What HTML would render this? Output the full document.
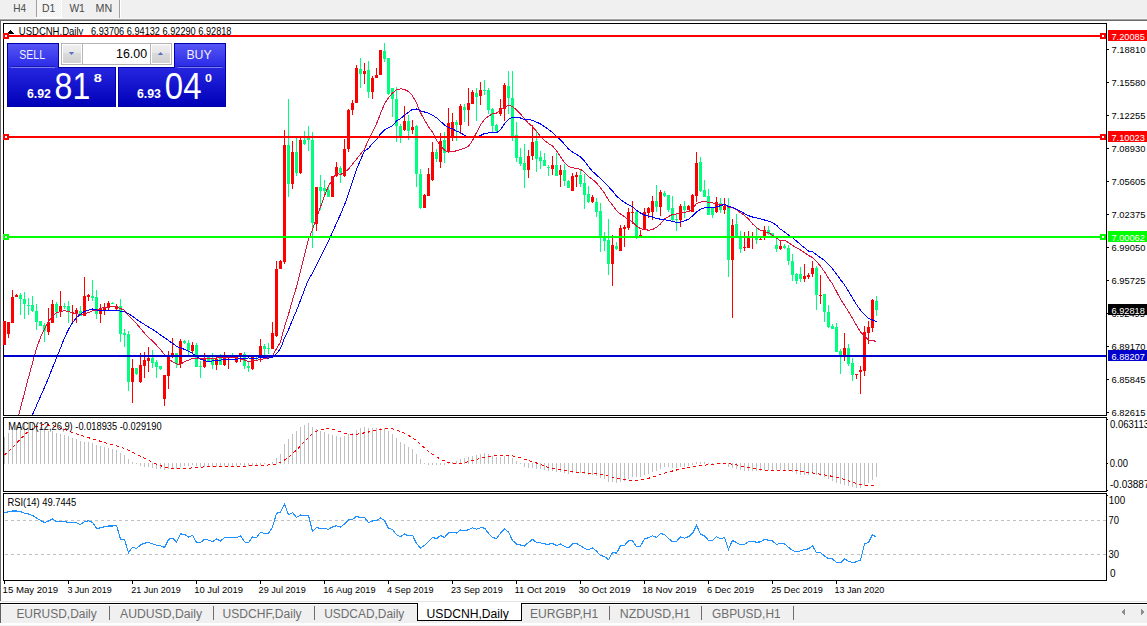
<!DOCTYPE html>
<html><head><meta charset="utf-8"><style>
html,body{margin:0;padding:0;width:1147px;height:626px;overflow:hidden;background:#fff}
svg{display:block}
</style></head><body>
<svg width="1147" height="626" viewBox="0 0 1147 626" shape-rendering="crispEdges">
<defs>
<pattern id="checker" x="0" y="0" width="2" height="2" patternUnits="userSpaceOnUse"><rect width="2" height="2" fill="#f0f0f0"/><rect width="1" height="1" fill="#fbfbfb"/><rect x="1" y="1" width="1" height="1" fill="#fbfbfb"/></pattern>
<clipPath id="mainclip"><rect x="4" y="24" width="1102" height="391"/></clipPath>
<clipPath id="macdclip"><rect x="4" y="418" width="1102" height="73"/></clipPath>
<clipPath id="rsiclip"><rect x="4" y="494" width="1102" height="86"/></clipPath>
<linearGradient id="gsell" x1="0" y1="0" x2="0" y2="1"><stop offset="0" stop-color="#5555f5"/><stop offset="1" stop-color="#2a2ae6"/></linearGradient>
<linearGradient id="gprice" x1="0" y1="0" x2="0" y2="1"><stop offset="0" stop-color="#2626e0"/><stop offset="1" stop-color="#0000b8"/></linearGradient>
<linearGradient id="gbtn" x1="0" y1="0" x2="0" y2="1"><stop offset="0" stop-color="#efefef"/><stop offset="0.45" stop-color="#e6e6e6"/><stop offset="0.45" stop-color="#dadada"/><stop offset="1" stop-color="#d2d2d2"/></linearGradient>
</defs>
<rect x="0" y="0" width="1147" height="626" fill="#ffffff"/>
<rect x="0" y="0" width="1147" height="19" fill="#f0f0f0"/>
<rect x="37" y="0" width="24" height="17" fill="url(#checker)"/>
<rect x="36" y="17" width="26" height="1" fill="#ffffff"/>
<rect x="61" y="0" width="1" height="18" fill="#ffffff"/>
<rect x="36" y="0" width="1" height="17" fill="#a0a0a0"/>
<rect x="119" y="0" width="1" height="19" fill="#a0a0a0"/>
<rect x="120" y="0" width="1" height="19" fill="#ffffff"/>
<rect x="0" y="18" width="1147" height="1" fill="#f6f6f6"/>
<rect x="0" y="19" width="1147" height="1" fill="#a4a4a4"/>
<rect x="0" y="20" width="1147" height="1" fill="#6c6c6c"/>
<text x="13.199999999999996" y="11.5" font-family="Liberation Sans" font-size="10.5" fill="#4a4a4a" font-weight="normal" textLength="12.84" lengthAdjust="spacingAndGlyphs">H4</text>
<text x="42.0" y="11.5" font-family="Liberation Sans" font-size="10.5" fill="#4a4a4a" font-weight="normal" textLength="13.34" lengthAdjust="spacingAndGlyphs">D1</text>
<text x="69.40000000000003" y="11.5" font-family="Liberation Sans" font-size="10.5" fill="#4a4a4a" font-weight="normal" textLength="15.45" lengthAdjust="spacingAndGlyphs">W1</text>
<text x="95.59999999999997" y="11.5" font-family="Liberation Sans" font-size="10.5" fill="#4a4a4a" font-weight="normal" textLength="16.64" lengthAdjust="spacingAndGlyphs">MN</text>
<rect x="0" y="20" width="1" height="581" fill="#6c6c6c"/>
<rect x="3" y="23" width="1104" height="1" fill="#000000"/>
<rect x="3" y="415" width="1104" height="1" fill="#000000"/>
<rect x="3" y="23" width="1" height="393" fill="#000000"/>
<rect x="1106" y="23" width="1" height="393" fill="#000000"/>
<rect x="3" y="417" width="1104" height="1" fill="#000000"/>
<rect x="3" y="491" width="1104" height="1" fill="#000000"/>
<rect x="3" y="417" width="1" height="75" fill="#000000"/>
<rect x="1106" y="417" width="1" height="75" fill="#000000"/>
<rect x="3" y="493" width="1104" height="1" fill="#000000"/>
<rect x="3" y="580" width="1104" height="1" fill="#000000"/>
<rect x="3" y="493" width="1" height="88" fill="#000000"/>
<rect x="1106" y="493" width="1" height="88" fill="#000000"/>
<rect x="1107" y="49" width="2" height="1" fill="#000000"/>
<text x="1111.5" y="53" font-family="Liberation Sans" font-size="9.6" fill="#000" font-weight="normal" textLength="33.86" lengthAdjust="spacingAndGlyphs">7.18810</text>
<rect x="1107" y="82" width="2" height="1" fill="#000000"/>
<text x="1111.5" y="86" font-family="Liberation Sans" font-size="9.6" fill="#000" font-weight="normal" textLength="33.86" lengthAdjust="spacingAndGlyphs">7.15580</text>
<rect x="1107" y="115" width="2" height="1" fill="#000000"/>
<text x="1111.5" y="119" font-family="Liberation Sans" font-size="9.6" fill="#000" font-weight="normal" textLength="33.86" lengthAdjust="spacingAndGlyphs">7.12255</text>
<rect x="1107" y="148" width="2" height="1" fill="#000000"/>
<text x="1111.5" y="152" font-family="Liberation Sans" font-size="9.6" fill="#000" font-weight="normal" textLength="33.86" lengthAdjust="spacingAndGlyphs">7.08930</text>
<rect x="1107" y="181" width="2" height="1" fill="#000000"/>
<text x="1111.5" y="185" font-family="Liberation Sans" font-size="9.6" fill="#000" font-weight="normal" textLength="33.86" lengthAdjust="spacingAndGlyphs">7.05605</text>
<rect x="1107" y="214" width="2" height="1" fill="#000000"/>
<text x="1111.5" y="218" font-family="Liberation Sans" font-size="9.6" fill="#000" font-weight="normal" textLength="33.86" lengthAdjust="spacingAndGlyphs">7.02375</text>
<rect x="1107" y="247" width="2" height="1" fill="#000000"/>
<text x="1111.5" y="251" font-family="Liberation Sans" font-size="9.6" fill="#000" font-weight="normal" textLength="33.86" lengthAdjust="spacingAndGlyphs">6.99050</text>
<rect x="1107" y="280" width="2" height="1" fill="#000000"/>
<text x="1111.5" y="284" font-family="Liberation Sans" font-size="9.6" fill="#000" font-weight="normal" textLength="33.86" lengthAdjust="spacingAndGlyphs">6.95725</text>
<rect x="1107" y="313" width="2" height="1" fill="#000000"/>
<text x="1111.5" y="317" font-family="Liberation Sans" font-size="9.6" fill="#000" font-weight="normal" textLength="33.30" lengthAdjust="spacingAndGlyphs">6.92495</text>
<rect x="1107" y="346" width="2" height="1" fill="#000000"/>
<text x="1111.5" y="350" font-family="Liberation Sans" font-size="9.6" fill="#000" font-weight="normal" textLength="33.86" lengthAdjust="spacingAndGlyphs">6.89170</text>
<rect x="1107" y="379" width="2" height="1" fill="#000000"/>
<text x="1111.5" y="383" font-family="Liberation Sans" font-size="9.6" fill="#000" font-weight="normal" textLength="33.86" lengthAdjust="spacingAndGlyphs">6.85845</text>
<rect x="1107" y="412" width="2" height="1" fill="#000000"/>
<text x="1111.5" y="416" font-family="Liberation Sans" font-size="9.6" fill="#000" font-weight="normal" textLength="33.86" lengthAdjust="spacingAndGlyphs">6.82615</text>
<rect x="4" y="321" width="1" height="24" fill="#ff0000"/>
<rect x="3" y="321" width="3" height="24" fill="#ff0000"/>
<rect x="8" y="322" width="1" height="16" fill="#ff0000"/>
<rect x="7" y="322" width="3" height="12" fill="#ff0000"/>
<rect x="12" y="290" width="1" height="33" fill="#ff0000"/>
<rect x="11" y="297" width="3" height="26" fill="#ff0000"/>
<rect x="16" y="294" width="1" height="3" fill="#ff0000"/>
<rect x="15" y="295" width="3" height="2" fill="#ff0000"/>
<rect x="20" y="293" width="1" height="22" fill="#00ff7f"/>
<rect x="19" y="295" width="3" height="4" fill="#00ff7f"/>
<rect x="24" y="292" width="1" height="27" fill="#00ff7f"/>
<rect x="23" y="299" width="3" height="5" fill="#00ff7f"/>
<rect x="28" y="298" width="1" height="17" fill="#00ff7f"/>
<rect x="27" y="305" width="3" height="1" fill="#00ff7f"/>
<rect x="32" y="296" width="1" height="16" fill="#00ff7f"/>
<rect x="31" y="305" width="3" height="6" fill="#00ff7f"/>
<rect x="36" y="304" width="1" height="26" fill="#00ff7f"/>
<rect x="35" y="311" width="3" height="11" fill="#00ff7f"/>
<rect x="40" y="321" width="1" height="5" fill="#00ff7f"/>
<rect x="39" y="321" width="3" height="5" fill="#00ff7f"/>
<rect x="44" y="323" width="1" height="19" fill="#00ff7f"/>
<rect x="43" y="325" width="3" height="6" fill="#00ff7f"/>
<rect x="48" y="308" width="1" height="27" fill="#ff0000"/>
<rect x="47" y="322" width="3" height="10" fill="#ff0000"/>
<rect x="52" y="300" width="1" height="23" fill="#ff0000"/>
<rect x="51" y="304" width="3" height="19" fill="#ff0000"/>
<rect x="56" y="302" width="1" height="16" fill="#00ff7f"/>
<rect x="55" y="304" width="3" height="8" fill="#00ff7f"/>
<rect x="60" y="291" width="1" height="26" fill="#ff0000"/>
<rect x="59" y="306" width="3" height="6" fill="#ff0000"/>
<rect x="64" y="303" width="1" height="6" fill="#00ff7f"/>
<rect x="63" y="306" width="3" height="1" fill="#00ff7f"/>
<rect x="68" y="301" width="1" height="22" fill="#00ff7f"/>
<rect x="67" y="306" width="3" height="5" fill="#00ff7f"/>
<rect x="72" y="305" width="1" height="18" fill="#ff0000"/>
<rect x="71" y="312" width="3" height="1" fill="#ff0000"/>
<rect x="76" y="308" width="1" height="15" fill="#ff0000"/>
<rect x="75" y="310" width="3" height="4" fill="#ff0000"/>
<rect x="80" y="306" width="1" height="10" fill="#00ff7f"/>
<rect x="79" y="311" width="3" height="5" fill="#00ff7f"/>
<rect x="84" y="277" width="1" height="39" fill="#ff0000"/>
<rect x="83" y="296" width="3" height="20" fill="#ff0000"/>
<rect x="88" y="294" width="1" height="7" fill="#ff0000"/>
<rect x="87" y="295" width="3" height="2" fill="#ff0000"/>
<rect x="92" y="280" width="1" height="21" fill="#00ff7f"/>
<rect x="91" y="296" width="3" height="2" fill="#00ff7f"/>
<rect x="96" y="290" width="1" height="29" fill="#00ff7f"/>
<rect x="95" y="297" width="3" height="17" fill="#00ff7f"/>
<rect x="100" y="304" width="1" height="19" fill="#ff0000"/>
<rect x="99" y="308" width="3" height="6" fill="#ff0000"/>
<rect x="104" y="303" width="1" height="12" fill="#ff0000"/>
<rect x="103" y="307" width="3" height="3" fill="#ff0000"/>
<rect x="108" y="301" width="1" height="9" fill="#ff0000"/>
<rect x="107" y="303" width="3" height="5" fill="#ff0000"/>
<rect x="112" y="302" width="1" height="2" fill="#00ff7f"/>
<rect x="111" y="303" width="3" height="1" fill="#00ff7f"/>
<rect x="116" y="304" width="1" height="6" fill="#ff0000"/>
<rect x="115" y="306" width="3" height="3" fill="#ff0000"/>
<rect x="120" y="299" width="1" height="43" fill="#00ff7f"/>
<rect x="119" y="306" width="3" height="28" fill="#00ff7f"/>
<rect x="124" y="329" width="1" height="18" fill="#00ff7f"/>
<rect x="123" y="333" width="3" height="2" fill="#00ff7f"/>
<rect x="128" y="331" width="1" height="60" fill="#00ff7f"/>
<rect x="127" y="334" width="3" height="48" fill="#00ff7f"/>
<rect x="132" y="359" width="1" height="44" fill="#ff0000"/>
<rect x="131" y="368" width="3" height="14" fill="#ff0000"/>
<rect x="136" y="368" width="1" height="7" fill="#00ff7f"/>
<rect x="135" y="368" width="3" height="6" fill="#00ff7f"/>
<rect x="140" y="353" width="1" height="30" fill="#ff0000"/>
<rect x="139" y="365" width="3" height="17" fill="#ff0000"/>
<rect x="144" y="352" width="1" height="26" fill="#ff0000"/>
<rect x="143" y="360" width="3" height="6" fill="#ff0000"/>
<rect x="148" y="347" width="1" height="25" fill="#ff0000"/>
<rect x="147" y="358" width="3" height="3" fill="#ff0000"/>
<rect x="152" y="350" width="1" height="18" fill="#00ff7f"/>
<rect x="151" y="358" width="3" height="5" fill="#00ff7f"/>
<rect x="156" y="360" width="1" height="18" fill="#00ff7f"/>
<rect x="155" y="362" width="3" height="5" fill="#00ff7f"/>
<rect x="160" y="366" width="1" height="4" fill="#00ff7f"/>
<rect x="159" y="366" width="3" height="3" fill="#00ff7f"/>
<rect x="164" y="375" width="1" height="31" fill="#ff0000"/>
<rect x="163" y="375" width="3" height="24" fill="#ff0000"/>
<rect x="168" y="351" width="1" height="38" fill="#ff0000"/>
<rect x="167" y="356" width="3" height="20" fill="#ff0000"/>
<rect x="172" y="338" width="1" height="20" fill="#ff0000"/>
<rect x="171" y="353" width="3" height="3" fill="#ff0000"/>
<rect x="176" y="353" width="1" height="15" fill="#00ff7f"/>
<rect x="175" y="353" width="3" height="11" fill="#00ff7f"/>
<rect x="180" y="339" width="1" height="29" fill="#ff0000"/>
<rect x="179" y="341" width="3" height="23" fill="#ff0000"/>
<rect x="184" y="340" width="1" height="4" fill="#00ff7f"/>
<rect x="183" y="341" width="3" height="2" fill="#00ff7f"/>
<rect x="188" y="340" width="1" height="16" fill="#00ff7f"/>
<rect x="187" y="343" width="3" height="7" fill="#00ff7f"/>
<rect x="192" y="342" width="1" height="11" fill="#ff0000"/>
<rect x="191" y="345" width="3" height="6" fill="#ff0000"/>
<rect x="196" y="343" width="1" height="24" fill="#00ff7f"/>
<rect x="195" y="345" width="3" height="22" fill="#00ff7f"/>
<rect x="200" y="361" width="1" height="17" fill="#00ff7f"/>
<rect x="199" y="366" width="3" height="1" fill="#00ff7f"/>
<rect x="204" y="353" width="1" height="15" fill="#ff0000"/>
<rect x="203" y="358" width="3" height="9" fill="#ff0000"/>
<rect x="208" y="356" width="1" height="5" fill="#00ff7f"/>
<rect x="207" y="357" width="3" height="4" fill="#00ff7f"/>
<rect x="212" y="353" width="1" height="16" fill="#00ff7f"/>
<rect x="211" y="359" width="3" height="6" fill="#00ff7f"/>
<rect x="216" y="357" width="1" height="13" fill="#ff0000"/>
<rect x="215" y="359" width="3" height="6" fill="#ff0000"/>
<rect x="220" y="354" width="1" height="11" fill="#00ff7f"/>
<rect x="219" y="355" width="3" height="10" fill="#00ff7f"/>
<rect x="224" y="352" width="1" height="14" fill="#ff0000"/>
<rect x="223" y="356" width="3" height="9" fill="#ff0000"/>
<rect x="228" y="356" width="1" height="13" fill="#ff0000"/>
<rect x="227" y="357" width="3" height="1" fill="#ff0000"/>
<rect x="232" y="353" width="1" height="5" fill="#00ff7f"/>
<rect x="231" y="356" width="3" height="1" fill="#00ff7f"/>
<rect x="236" y="356" width="1" height="7" fill="#ff0000"/>
<rect x="235" y="357" width="3" height="5" fill="#ff0000"/>
<rect x="240" y="353" width="1" height="9" fill="#ff0000"/>
<rect x="239" y="353" width="3" height="4" fill="#ff0000"/>
<rect x="244" y="352" width="1" height="17" fill="#00ff7f"/>
<rect x="243" y="354" width="3" height="12" fill="#00ff7f"/>
<rect x="248" y="361" width="1" height="11" fill="#00ff7f"/>
<rect x="247" y="366" width="3" height="2" fill="#00ff7f"/>
<rect x="252" y="356" width="1" height="14" fill="#ff0000"/>
<rect x="251" y="357" width="3" height="12" fill="#ff0000"/>
<rect x="256" y="356" width="1" height="4" fill="#00ff7f"/>
<rect x="255" y="358" width="3" height="1" fill="#00ff7f"/>
<rect x="260" y="339" width="1" height="23" fill="#ff0000"/>
<rect x="259" y="346" width="3" height="9" fill="#ff0000"/>
<rect x="264" y="344" width="1" height="11" fill="#00ff7f"/>
<rect x="263" y="346" width="3" height="3" fill="#00ff7f"/>
<rect x="268" y="343" width="1" height="11" fill="#00ff7f"/>
<rect x="267" y="348" width="3" height="1" fill="#00ff7f"/>
<rect x="272" y="322" width="1" height="27" fill="#ff0000"/>
<rect x="271" y="333" width="3" height="16" fill="#ff0000"/>
<rect x="276" y="261" width="1" height="76" fill="#ff0000"/>
<rect x="275" y="269" width="3" height="67" fill="#ff0000"/>
<rect x="280" y="260" width="1" height="9" fill="#ff0000"/>
<rect x="279" y="261" width="3" height="8" fill="#ff0000"/>
<rect x="284" y="130" width="1" height="134" fill="#ff0000"/>
<rect x="283" y="145" width="3" height="117" fill="#ff0000"/>
<rect x="288" y="99" width="1" height="98" fill="#00ff7f"/>
<rect x="287" y="145" width="3" height="39" fill="#00ff7f"/>
<rect x="292" y="141" width="1" height="48" fill="#ff0000"/>
<rect x="291" y="152" width="3" height="32" fill="#ff0000"/>
<rect x="296" y="138" width="1" height="38" fill="#00ff7f"/>
<rect x="295" y="152" width="3" height="21" fill="#00ff7f"/>
<rect x="300" y="138" width="1" height="36" fill="#ff0000"/>
<rect x="299" y="140" width="3" height="33" fill="#ff0000"/>
<rect x="304" y="131" width="1" height="14" fill="#00ff7f"/>
<rect x="303" y="140" width="3" height="4" fill="#00ff7f"/>
<rect x="308" y="126" width="1" height="25" fill="#00ff7f"/>
<rect x="307" y="138" width="3" height="2" fill="#00ff7f"/>
<rect x="312" y="132" width="1" height="116" fill="#00ff7f"/>
<rect x="311" y="140" width="3" height="83" fill="#00ff7f"/>
<rect x="316" y="187" width="1" height="44" fill="#ff0000"/>
<rect x="315" y="187" width="3" height="37" fill="#ff0000"/>
<rect x="320" y="175" width="1" height="35" fill="#00ff7f"/>
<rect x="319" y="187" width="3" height="4" fill="#00ff7f"/>
<rect x="324" y="180" width="1" height="17" fill="#00ff7f"/>
<rect x="323" y="188" width="3" height="3" fill="#00ff7f"/>
<rect x="328" y="185" width="1" height="12" fill="#00ff7f"/>
<rect x="327" y="190" width="3" height="7" fill="#00ff7f"/>
<rect x="332" y="176" width="1" height="21" fill="#ff0000"/>
<rect x="331" y="176" width="3" height="21" fill="#ff0000"/>
<rect x="336" y="162" width="1" height="15" fill="#ff0000"/>
<rect x="335" y="167" width="3" height="9" fill="#ff0000"/>
<rect x="340" y="166" width="1" height="17" fill="#00ff7f"/>
<rect x="339" y="168" width="3" height="5" fill="#00ff7f"/>
<rect x="344" y="139" width="1" height="38" fill="#ff0000"/>
<rect x="343" y="149" width="3" height="27" fill="#ff0000"/>
<rect x="348" y="109" width="1" height="43" fill="#ff0000"/>
<rect x="347" y="110" width="3" height="39" fill="#ff0000"/>
<rect x="352" y="100" width="1" height="15" fill="#ff0000"/>
<rect x="351" y="103" width="3" height="7" fill="#ff0000"/>
<rect x="356" y="65" width="1" height="38" fill="#ff0000"/>
<rect x="355" y="68" width="3" height="35" fill="#ff0000"/>
<rect x="360" y="58" width="1" height="30" fill="#00ff7f"/>
<rect x="359" y="69" width="3" height="5" fill="#00ff7f"/>
<rect x="364" y="63" width="1" height="21" fill="#ff0000"/>
<rect x="363" y="71" width="3" height="3" fill="#ff0000"/>
<rect x="368" y="61" width="1" height="37" fill="#00ff7f"/>
<rect x="367" y="70" width="3" height="22" fill="#00ff7f"/>
<rect x="372" y="76" width="1" height="23" fill="#ff0000"/>
<rect x="371" y="78" width="3" height="14" fill="#ff0000"/>
<rect x="376" y="68" width="1" height="10" fill="#ff0000"/>
<rect x="375" y="75" width="3" height="3" fill="#ff0000"/>
<rect x="380" y="50" width="1" height="25" fill="#ff0000"/>
<rect x="379" y="50" width="3" height="25" fill="#ff0000"/>
<rect x="384" y="43" width="1" height="19" fill="#00ff7f"/>
<rect x="383" y="51" width="3" height="8" fill="#00ff7f"/>
<rect x="388" y="58" width="1" height="37" fill="#00ff7f"/>
<rect x="387" y="58" width="3" height="36" fill="#00ff7f"/>
<rect x="392" y="88" width="1" height="29" fill="#00ff7f"/>
<rect x="391" y="88" width="3" height="11" fill="#00ff7f"/>
<rect x="396" y="87" width="1" height="55" fill="#00ff7f"/>
<rect x="395" y="99" width="3" height="27" fill="#00ff7f"/>
<rect x="400" y="124" width="1" height="19" fill="#00ff7f"/>
<rect x="399" y="126" width="3" height="10" fill="#00ff7f"/>
<rect x="404" y="106" width="1" height="25" fill="#ff0000"/>
<rect x="403" y="121" width="3" height="9" fill="#ff0000"/>
<rect x="408" y="115" width="1" height="25" fill="#00ff7f"/>
<rect x="407" y="121" width="3" height="10" fill="#00ff7f"/>
<rect x="412" y="120" width="1" height="14" fill="#ff0000"/>
<rect x="411" y="127" width="3" height="3" fill="#ff0000"/>
<rect x="416" y="125" width="1" height="62" fill="#00ff7f"/>
<rect x="415" y="126" width="3" height="48" fill="#00ff7f"/>
<rect x="420" y="169" width="1" height="40" fill="#00ff7f"/>
<rect x="419" y="174" width="3" height="34" fill="#00ff7f"/>
<rect x="424" y="194" width="1" height="14" fill="#ff0000"/>
<rect x="423" y="195" width="3" height="13" fill="#ff0000"/>
<rect x="428" y="168" width="1" height="28" fill="#ff0000"/>
<rect x="427" y="174" width="3" height="22" fill="#ff0000"/>
<rect x="432" y="142" width="1" height="39" fill="#ff0000"/>
<rect x="431" y="152" width="3" height="28" fill="#ff0000"/>
<rect x="436" y="149" width="1" height="13" fill="#00ff7f"/>
<rect x="435" y="152" width="3" height="7" fill="#00ff7f"/>
<rect x="440" y="133" width="1" height="35" fill="#ff0000"/>
<rect x="439" y="141" width="3" height="21" fill="#ff0000"/>
<rect x="444" y="132" width="1" height="31" fill="#00ff7f"/>
<rect x="443" y="140" width="3" height="13" fill="#00ff7f"/>
<rect x="448" y="108" width="1" height="45" fill="#ff0000"/>
<rect x="447" y="123" width="3" height="29" fill="#ff0000"/>
<rect x="452" y="113" width="1" height="28" fill="#ff0000"/>
<rect x="451" y="122" width="3" height="15" fill="#ff0000"/>
<rect x="456" y="120" width="1" height="21" fill="#00ff7f"/>
<rect x="455" y="122" width="3" height="3" fill="#00ff7f"/>
<rect x="460" y="104" width="1" height="30" fill="#ff0000"/>
<rect x="459" y="106" width="3" height="19" fill="#ff0000"/>
<rect x="464" y="104" width="1" height="18" fill="#00ff7f"/>
<rect x="463" y="107" width="3" height="3" fill="#00ff7f"/>
<rect x="468" y="88" width="1" height="38" fill="#ff0000"/>
<rect x="467" y="103" width="3" height="7" fill="#ff0000"/>
<rect x="472" y="90" width="1" height="14" fill="#ff0000"/>
<rect x="471" y="92" width="3" height="12" fill="#ff0000"/>
<rect x="476" y="88" width="1" height="33" fill="#00ff7f"/>
<rect x="475" y="93" width="3" height="4" fill="#00ff7f"/>
<rect x="480" y="82" width="1" height="23" fill="#ff0000"/>
<rect x="479" y="90" width="3" height="6" fill="#ff0000"/>
<rect x="484" y="80" width="1" height="15" fill="#00ff7f"/>
<rect x="483" y="90" width="3" height="1" fill="#00ff7f"/>
<rect x="488" y="88" width="1" height="26" fill="#00ff7f"/>
<rect x="487" y="90" width="3" height="20" fill="#00ff7f"/>
<rect x="492" y="108" width="1" height="24" fill="#00ff7f"/>
<rect x="491" y="109" width="3" height="17" fill="#00ff7f"/>
<rect x="496" y="124" width="1" height="8" fill="#00ff7f"/>
<rect x="495" y="125" width="3" height="6" fill="#00ff7f"/>
<rect x="500" y="99" width="1" height="17" fill="#ff0000"/>
<rect x="499" y="108" width="3" height="6" fill="#ff0000"/>
<rect x="504" y="83" width="1" height="38" fill="#ff0000"/>
<rect x="503" y="85" width="3" height="24" fill="#ff0000"/>
<rect x="508" y="71" width="1" height="43" fill="#00ff7f"/>
<rect x="507" y="86" width="3" height="12" fill="#00ff7f"/>
<rect x="512" y="71" width="1" height="70" fill="#00ff7f"/>
<rect x="511" y="98" width="3" height="39" fill="#00ff7f"/>
<rect x="516" y="122" width="1" height="40" fill="#00ff7f"/>
<rect x="515" y="135" width="3" height="23" fill="#00ff7f"/>
<rect x="520" y="148" width="1" height="18" fill="#00ff7f"/>
<rect x="519" y="157" width="3" height="7" fill="#00ff7f"/>
<rect x="524" y="144" width="1" height="44" fill="#00ff7f"/>
<rect x="523" y="163" width="3" height="7" fill="#00ff7f"/>
<rect x="528" y="150" width="1" height="28" fill="#ff0000"/>
<rect x="527" y="156" width="3" height="14" fill="#ff0000"/>
<rect x="532" y="125" width="1" height="35" fill="#ff0000"/>
<rect x="531" y="142" width="3" height="14" fill="#ff0000"/>
<rect x="536" y="130" width="1" height="42" fill="#00ff7f"/>
<rect x="535" y="141" width="3" height="18" fill="#00ff7f"/>
<rect x="540" y="151" width="1" height="18" fill="#00ff7f"/>
<rect x="539" y="157" width="3" height="4" fill="#00ff7f"/>
<rect x="544" y="153" width="1" height="13" fill="#00ff7f"/>
<rect x="543" y="160" width="3" height="6" fill="#00ff7f"/>
<rect x="548" y="165" width="1" height="11" fill="#00ff7f"/>
<rect x="547" y="167" width="3" height="1" fill="#00ff7f"/>
<rect x="552" y="156" width="1" height="19" fill="#ff0000"/>
<rect x="551" y="165" width="3" height="4" fill="#ff0000"/>
<rect x="556" y="153" width="1" height="23" fill="#00ff7f"/>
<rect x="555" y="165" width="3" height="11" fill="#00ff7f"/>
<rect x="560" y="165" width="1" height="22" fill="#ff0000"/>
<rect x="559" y="170" width="3" height="5" fill="#ff0000"/>
<rect x="564" y="164" width="1" height="22" fill="#00ff7f"/>
<rect x="563" y="170" width="3" height="11" fill="#00ff7f"/>
<rect x="568" y="180" width="1" height="8" fill="#00ff7f"/>
<rect x="567" y="181" width="3" height="7" fill="#00ff7f"/>
<rect x="572" y="173" width="1" height="18" fill="#ff0000"/>
<rect x="571" y="176" width="3" height="15" fill="#ff0000"/>
<rect x="576" y="172" width="1" height="15" fill="#ff0000"/>
<rect x="575" y="175" width="3" height="2" fill="#ff0000"/>
<rect x="580" y="169" width="1" height="18" fill="#00ff7f"/>
<rect x="579" y="175" width="3" height="9" fill="#00ff7f"/>
<rect x="584" y="174" width="1" height="35" fill="#00ff7f"/>
<rect x="583" y="183" width="3" height="12" fill="#00ff7f"/>
<rect x="588" y="186" width="1" height="17" fill="#00ff7f"/>
<rect x="587" y="194" width="3" height="8" fill="#00ff7f"/>
<rect x="592" y="195" width="1" height="8" fill="#ff0000"/>
<rect x="591" y="197" width="3" height="5" fill="#ff0000"/>
<rect x="596" y="198" width="1" height="19" fill="#00ff7f"/>
<rect x="595" y="202" width="3" height="10" fill="#00ff7f"/>
<rect x="600" y="203" width="1" height="49" fill="#00ff7f"/>
<rect x="599" y="211" width="3" height="25" fill="#00ff7f"/>
<rect x="604" y="232" width="1" height="19" fill="#00ff7f"/>
<rect x="603" y="236" width="3" height="5" fill="#00ff7f"/>
<rect x="608" y="219" width="1" height="56" fill="#00ff7f"/>
<rect x="607" y="240" width="3" height="24" fill="#00ff7f"/>
<rect x="612" y="235" width="1" height="51" fill="#ff0000"/>
<rect x="611" y="245" width="3" height="19" fill="#ff0000"/>
<rect x="616" y="242" width="1" height="8" fill="#00ff7f"/>
<rect x="615" y="246" width="3" height="3" fill="#00ff7f"/>
<rect x="620" y="225" width="1" height="26" fill="#ff0000"/>
<rect x="619" y="228" width="3" height="23" fill="#ff0000"/>
<rect x="624" y="225" width="1" height="22" fill="#ff0000"/>
<rect x="623" y="227" width="3" height="2" fill="#ff0000"/>
<rect x="628" y="208" width="1" height="22" fill="#ff0000"/>
<rect x="627" y="212" width="3" height="16" fill="#ff0000"/>
<rect x="632" y="201" width="1" height="23" fill="#ff0000"/>
<rect x="631" y="212" width="3" height="1" fill="#ff0000"/>
<rect x="636" y="211" width="1" height="28" fill="#00ff7f"/>
<rect x="635" y="212" width="3" height="25" fill="#00ff7f"/>
<rect x="640" y="230" width="1" height="7" fill="#ff0000"/>
<rect x="639" y="235" width="3" height="1" fill="#ff0000"/>
<rect x="644" y="208" width="1" height="22" fill="#ff0000"/>
<rect x="643" y="212" width="3" height="17" fill="#ff0000"/>
<rect x="648" y="207" width="1" height="11" fill="#ff0000"/>
<rect x="647" y="208" width="3" height="5" fill="#ff0000"/>
<rect x="652" y="196" width="1" height="24" fill="#ff0000"/>
<rect x="651" y="201" width="3" height="11" fill="#ff0000"/>
<rect x="656" y="185" width="1" height="27" fill="#00ff7f"/>
<rect x="655" y="201" width="3" height="6" fill="#00ff7f"/>
<rect x="660" y="190" width="1" height="26" fill="#ff0000"/>
<rect x="659" y="192" width="3" height="15" fill="#ff0000"/>
<rect x="664" y="191" width="1" height="6" fill="#00ff7f"/>
<rect x="663" y="193" width="3" height="3" fill="#00ff7f"/>
<rect x="668" y="195" width="1" height="17" fill="#00ff7f"/>
<rect x="667" y="195" width="3" height="15" fill="#00ff7f"/>
<rect x="672" y="196" width="1" height="25" fill="#00ff7f"/>
<rect x="671" y="208" width="3" height="12" fill="#00ff7f"/>
<rect x="676" y="213" width="1" height="18" fill="#00ff7f"/>
<rect x="675" y="219" width="3" height="1" fill="#00ff7f"/>
<rect x="680" y="204" width="1" height="23" fill="#ff0000"/>
<rect x="679" y="206" width="3" height="14" fill="#ff0000"/>
<rect x="684" y="201" width="1" height="17" fill="#00ff7f"/>
<rect x="683" y="206" width="3" height="4" fill="#00ff7f"/>
<rect x="688" y="205" width="1" height="5" fill="#ff0000"/>
<rect x="687" y="206" width="3" height="4" fill="#ff0000"/>
<rect x="692" y="194" width="1" height="18" fill="#ff0000"/>
<rect x="691" y="195" width="3" height="17" fill="#ff0000"/>
<rect x="696" y="152" width="1" height="50" fill="#ff0000"/>
<rect x="695" y="163" width="3" height="33" fill="#ff0000"/>
<rect x="700" y="157" width="1" height="35" fill="#00ff7f"/>
<rect x="699" y="162" width="3" height="29" fill="#00ff7f"/>
<rect x="704" y="180" width="1" height="17" fill="#00ff7f"/>
<rect x="703" y="190" width="3" height="7" fill="#00ff7f"/>
<rect x="708" y="189" width="1" height="26" fill="#00ff7f"/>
<rect x="707" y="196" width="3" height="19" fill="#00ff7f"/>
<rect x="712" y="207" width="1" height="11" fill="#00ff7f"/>
<rect x="711" y="207" width="3" height="8" fill="#00ff7f"/>
<rect x="716" y="197" width="1" height="16" fill="#ff0000"/>
<rect x="715" y="202" width="3" height="10" fill="#ff0000"/>
<rect x="720" y="198" width="1" height="15" fill="#00ff7f"/>
<rect x="719" y="203" width="3" height="7" fill="#00ff7f"/>
<rect x="724" y="198" width="1" height="16" fill="#ff0000"/>
<rect x="723" y="206" width="3" height="4" fill="#ff0000"/>
<rect x="728" y="198" width="1" height="79" fill="#00ff7f"/>
<rect x="727" y="206" width="3" height="54" fill="#00ff7f"/>
<rect x="732" y="219" width="1" height="99" fill="#ff0000"/>
<rect x="731" y="225" width="3" height="35" fill="#ff0000"/>
<rect x="736" y="214" width="1" height="23" fill="#00ff7f"/>
<rect x="735" y="224" width="3" height="13" fill="#00ff7f"/>
<rect x="740" y="231" width="1" height="22" fill="#00ff7f"/>
<rect x="739" y="236" width="3" height="13" fill="#00ff7f"/>
<rect x="744" y="232" width="1" height="19" fill="#ff0000"/>
<rect x="743" y="247" width="3" height="1" fill="#ff0000"/>
<rect x="748" y="231" width="1" height="17" fill="#ff0000"/>
<rect x="747" y="238" width="3" height="10" fill="#ff0000"/>
<rect x="752" y="232" width="1" height="17" fill="#ff0000"/>
<rect x="751" y="236" width="3" height="2" fill="#ff0000"/>
<rect x="756" y="227" width="1" height="17" fill="#00ff7f"/>
<rect x="755" y="238" width="3" height="2" fill="#00ff7f"/>
<rect x="760" y="238" width="1" height="2" fill="#ff0000"/>
<rect x="759" y="239" width="3" height="1" fill="#ff0000"/>
<rect x="764" y="226" width="1" height="14" fill="#ff0000"/>
<rect x="763" y="230" width="3" height="8" fill="#ff0000"/>
<rect x="768" y="226" width="1" height="9" fill="#00ff7f"/>
<rect x="767" y="230" width="3" height="4" fill="#00ff7f"/>
<rect x="772" y="233" width="1" height="5" fill="#00ff7f"/>
<rect x="771" y="233" width="3" height="3" fill="#00ff7f"/>
<rect x="776" y="239" width="1" height="13" fill="#00ff7f"/>
<rect x="775" y="245" width="3" height="4" fill="#00ff7f"/>
<rect x="780" y="240" width="1" height="10" fill="#ff0000"/>
<rect x="779" y="246" width="3" height="3" fill="#ff0000"/>
<rect x="784" y="244" width="1" height="5" fill="#00ff7f"/>
<rect x="783" y="246" width="3" height="2" fill="#00ff7f"/>
<rect x="788" y="245" width="1" height="20" fill="#00ff7f"/>
<rect x="787" y="248" width="3" height="13" fill="#00ff7f"/>
<rect x="792" y="254" width="1" height="27" fill="#00ff7f"/>
<rect x="791" y="261" width="3" height="14" fill="#00ff7f"/>
<rect x="796" y="273" width="1" height="11" fill="#00ff7f"/>
<rect x="795" y="274" width="3" height="7" fill="#00ff7f"/>
<rect x="800" y="267" width="1" height="15" fill="#00ff7f"/>
<rect x="799" y="274" width="3" height="5" fill="#00ff7f"/>
<rect x="804" y="264" width="1" height="18" fill="#ff0000"/>
<rect x="803" y="276" width="3" height="3" fill="#ff0000"/>
<rect x="808" y="273" width="1" height="6" fill="#ff0000"/>
<rect x="807" y="275" width="3" height="2" fill="#ff0000"/>
<rect x="812" y="261" width="1" height="16" fill="#ff0000"/>
<rect x="811" y="268" width="3" height="6" fill="#ff0000"/>
<rect x="816" y="266" width="1" height="44" fill="#00ff7f"/>
<rect x="815" y="268" width="3" height="27" fill="#00ff7f"/>
<rect x="820" y="275" width="1" height="29" fill="#ff0000"/>
<rect x="819" y="295" width="3" height="1" fill="#ff0000"/>
<rect x="824" y="294" width="1" height="28" fill="#00ff7f"/>
<rect x="823" y="294" width="3" height="18" fill="#00ff7f"/>
<rect x="828" y="305" width="1" height="23" fill="#00ff7f"/>
<rect x="827" y="312" width="3" height="15" fill="#00ff7f"/>
<rect x="832" y="324" width="1" height="5" fill="#00ff7f"/>
<rect x="831" y="326" width="3" height="3" fill="#00ff7f"/>
<rect x="836" y="323" width="1" height="29" fill="#00ff7f"/>
<rect x="835" y="327" width="3" height="25" fill="#00ff7f"/>
<rect x="840" y="349" width="1" height="25" fill="#00ff7f"/>
<rect x="839" y="351" width="3" height="5" fill="#00ff7f"/>
<rect x="844" y="333" width="1" height="28" fill="#ff0000"/>
<rect x="843" y="348" width="3" height="8" fill="#ff0000"/>
<rect x="848" y="344" width="1" height="22" fill="#00ff7f"/>
<rect x="847" y="348" width="3" height="16" fill="#00ff7f"/>
<rect x="852" y="358" width="1" height="23" fill="#00ff7f"/>
<rect x="851" y="363" width="3" height="12" fill="#00ff7f"/>
<rect x="856" y="374" width="1" height="5" fill="#ff0000"/>
<rect x="855" y="374" width="3" height="1" fill="#ff0000"/>
<rect x="860" y="366" width="1" height="28" fill="#ff0000"/>
<rect x="859" y="370" width="3" height="2" fill="#ff0000"/>
<rect x="864" y="326" width="1" height="50" fill="#ff0000"/>
<rect x="863" y="332" width="3" height="39" fill="#ff0000"/>
<rect x="868" y="321" width="1" height="23" fill="#ff0000"/>
<rect x="867" y="327" width="3" height="6" fill="#ff0000"/>
<rect x="872" y="299" width="1" height="33" fill="#ff0000"/>
<rect x="871" y="300" width="3" height="28" fill="#ff0000"/>
<rect x="876" y="296" width="1" height="20" fill="#00ff7f"/>
<rect x="875" y="301" width="3" height="9" fill="#00ff7f"/>
<path d="M7,33.5 L10.5,30 L14,33.5 Z" fill="#000"/>
<text x="18.799999999999983" y="35" font-family="Liberation Sans" font-size="10.5" fill="#000" font-weight="normal" textLength="64.49" lengthAdjust="spacingAndGlyphs">USDCNH,Daily</text>
<text x="91.0" y="35" font-family="Liberation Sans" font-size="10.5" fill="#000" font-weight="normal" textLength="140.48" lengthAdjust="spacingAndGlyphs">6.93706&#160;6.94132&#160;6.92290&#160;6.92818</text>
<polyline points="4.5,469.6 8.5,455.6 12.5,439.7 16.5,423.8 20.5,408.1 24.5,392.8 28.5,377.6 32.5,362.8 36.5,348.7 40.5,337.3 44.5,328.6 48.5,321.7 52.5,315.7 56.5,312.7 60.5,311.7 64.5,310.6 68.5,311.6 72.5,312.8 76.5,313.6 80.5,314.5 84.5,313.8 88.5,312.6 92.5,310.9 96.5,310.1 100.5,308.4 104.5,307.4 108.5,307.3 112.5,306.7 116.5,306.7 120.5,308.6 124.5,310.3 128.5,315.3 132.5,319.5 136.5,323.6 140.5,328.5 144.5,333.2 148.5,337.5 152.5,341.0 156.5,345.2 160.5,349.6 164.5,354.8 168.5,358.5 172.5,361.8 176.5,364.0 180.5,364.4 184.5,361.6 188.5,360.3 192.5,358.3 196.5,358.4 200.5,358.9 204.5,358.9 208.5,358.8 212.5,358.6 216.5,357.9 220.5,357.2 224.5,357.2 228.5,357.5 232.5,357.0 236.5,358.1 240.5,358.9 244.5,360.0 248.5,361.6 252.5,360.9 256.5,360.3 260.5,359.5 264.5,358.6 268.5,357.4 272.5,355.6 276.5,348.7 280.5,341.9 284.5,326.8 288.5,314.4 292.5,299.8 296.5,286.9 300.5,270.8 304.5,254.8 308.5,239.3 312.5,229.6 316.5,218.3 320.5,207.0 324.5,195.7 328.5,186.0 332.5,179.4 336.5,172.7 340.5,174.7 344.5,172.2 348.5,169.2 352.5,164.2 356.5,159.1 360.5,154.1 364.5,149.1 368.5,139.8 372.5,132.0 376.5,123.7 380.5,113.7 384.5,103.8 388.5,97.9 392.5,93.0 396.5,89.7 400.5,88.8 404.5,89.5 408.5,91.5 412.5,95.8 416.5,102.9 420.5,112.7 424.5,120.0 428.5,126.9 432.5,132.3 436.5,140.1 440.5,145.9 444.5,150.2 448.5,151.9 452.5,151.6 456.5,150.8 460.5,149.7 464.5,148.2 468.5,146.4 472.5,140.6 476.5,132.6 480.5,125.1 484.5,119.2 488.5,116.2 492.5,113.8 496.5,113.1 500.5,109.9 504.5,107.2 508.5,105.5 512.5,106.3 516.5,110.1 520.5,114.0 524.5,118.7 528.5,123.3 532.5,126.5 536.5,131.4 540.5,136.4 544.5,140.5 548.5,143.5 552.5,145.9 556.5,150.7 560.5,156.8 564.5,162.7 568.5,166.4 572.5,167.7 576.5,168.4 580.5,169.4 584.5,172.2 588.5,176.5 592.5,179.3 596.5,182.9 600.5,187.9 604.5,193.0 608.5,200.1 612.5,205.0 616.5,210.7 620.5,214.0 624.5,216.8 628.5,219.4 632.5,222.0 636.5,225.9 640.5,228.7 644.5,229.4 648.5,230.2 652.5,229.5 656.5,227.4 660.5,223.9 664.5,219.1 668.5,216.6 672.5,214.5 676.5,213.9 680.5,212.4 684.5,212.2 688.5,211.8 692.5,208.8 696.5,203.6 700.5,202.1 704.5,201.3 708.5,202.3 712.5,202.9 716.5,203.6 720.5,204.6 724.5,204.3 728.5,207.2 732.5,207.6 736.5,209.8 740.5,212.6 744.5,215.6 748.5,218.7 752.5,223.9 756.5,227.4 760.5,230.4 764.5,231.5 768.5,232.8 772.5,235.3 776.5,238.1 780.5,241.0 784.5,240.1 788.5,242.7 792.5,245.4 796.5,247.7 800.5,250.0 804.5,252.7 808.5,255.5 812.5,257.5 816.5,261.5 820.5,266.2 824.5,271.8 828.5,278.2 832.5,283.9 836.5,291.5 840.5,299.2 844.5,305.3 848.5,311.7 852.5,318.4 856.5,325.2 860.5,331.9 864.5,336.0 868.5,340.1 872.5,340.5 876.5,341.5" fill="none" stroke="#dc143c" stroke-width="1" clip-path="url(#mainclip)"/>
<polyline points="4.5,486.0 8.5,476.7 12.5,466.1 16.5,455.5 20.5,445.1 24.5,434.8 28.5,424.7 32.5,414.8 36.5,405.5 40.5,396.3 44.5,387.4 48.5,378.0 52.5,367.8 56.5,358.0 60.5,347.9 64.5,337.8 68.5,329.5 72.5,322.8 76.5,317.6 80.5,314.2 84.5,311.4 88.5,310.2 92.5,309.0 96.5,309.9 100.5,310.5 104.5,310.9 108.5,310.8 112.5,310.7 116.5,310.5 120.5,311.1 124.5,311.5 128.5,313.9 132.5,316.1 136.5,319.4 140.5,322.0 144.5,324.5 148.5,327.0 152.5,329.4 156.5,332.1 160.5,334.9 164.5,337.7 168.5,340.5 172.5,343.3 176.5,346.4 180.5,347.7 184.5,349.4 188.5,351.4 192.5,353.4 196.5,356.4 200.5,359.3 204.5,360.5 208.5,361.7 212.5,360.9 216.5,360.5 220.5,360.1 224.5,359.6 228.5,359.5 232.5,359.4 236.5,359.2 240.5,358.5 244.5,358.3 248.5,358.0 252.5,358.1 256.5,358.3 260.5,357.5 264.5,357.9 268.5,358.1 272.5,357.3 276.5,353.7 280.5,348.6 284.5,338.1 288.5,329.8 292.5,319.8 296.5,310.7 300.5,300.3 304.5,289.7 308.5,279.5 312.5,273.1 316.5,265.0 320.5,257.1 324.5,249.4 328.5,241.3 332.5,232.2 336.5,223.2 340.5,214.3 344.5,204.9 348.5,193.6 352.5,181.9 356.5,169.3 360.5,160.0 364.5,150.9 368.5,148.4 372.5,143.4 376.5,139.7 380.5,133.9 384.5,130.0 388.5,127.6 392.5,125.6 396.5,121.0 400.5,118.6 404.5,115.3 408.5,112.4 412.5,109.1 416.5,109.0 420.5,110.9 424.5,112.0 428.5,113.1 432.5,115.1 436.5,117.8 440.5,121.3 444.5,125.0 448.5,127.5 452.5,128.9 456.5,131.1 460.5,132.6 464.5,135.4 468.5,137.5 472.5,137.4 476.5,137.3 480.5,135.6 484.5,133.4 488.5,132.9 492.5,132.6 496.5,132.8 500.5,129.7 504.5,123.8 508.5,119.2 512.5,117.4 516.5,117.7 520.5,118.0 524.5,119.4 528.5,119.5 532.5,120.4 536.5,122.1 540.5,123.9 544.5,126.7 548.5,129.5 552.5,132.5 556.5,136.5 560.5,139.9 564.5,144.3 568.5,148.9 572.5,152.0 576.5,154.4 580.5,156.9 584.5,161.0 588.5,166.6 592.5,171.3 596.5,174.9 600.5,178.6 604.5,182.3 608.5,186.7 612.5,191.0 616.5,196.1 620.5,199.4 624.5,202.5 628.5,204.7 632.5,206.8 636.5,210.2 640.5,213.0 644.5,215.0 648.5,216.3 652.5,217.0 656.5,218.4 660.5,219.2 664.5,219.8 668.5,220.5 672.5,221.4 676.5,222.4 680.5,222.2 684.5,220.9 688.5,219.2 692.5,216.0 696.5,212.1 700.5,209.3 704.5,207.8 708.5,207.3 712.5,207.4 716.5,206.9 720.5,205.7 724.5,204.3 728.5,206.6 732.5,207.4 736.5,209.1 740.5,211.1 744.5,213.7 748.5,215.7 752.5,217.0 756.5,217.9 760.5,218.9 764.5,220.0 768.5,221.2 772.5,222.6 776.5,225.2 780.5,229.2 784.5,231.9 788.5,235.0 792.5,237.8 796.5,241.0 800.5,244.6 804.5,247.8 808.5,251.1 812.5,251.5 816.5,254.8 820.5,257.6 824.5,260.6 828.5,264.4 832.5,268.7 836.5,274.2 840.5,279.7 844.5,284.9 848.5,291.3 852.5,298.0 856.5,304.5 860.5,310.3 864.5,314.4 868.5,318.2 872.5,320.0 876.5,321.7" fill="none" stroke="#0000ff" stroke-width="1" clip-path="url(#mainclip)"/>
<rect x="4" y="35" width="1102" height="2" fill="#ff0000"/>
<rect x="3" y="33" width="6" height="6" fill="#ff0000"/>
<rect x="5" y="35" width="2" height="2" fill="#ffffff"/>
<rect x="1100" y="33" width="6" height="6" fill="#ff0000"/>
<rect x="1102" y="35" width="2" height="2" fill="#ffffff"/>
<rect x="1108" y="30" width="39" height="11" fill="#ff0000"/>
<text x="1111.5" y="40" font-family="Liberation Sans" font-size="9.6" fill="#ffffff" font-weight="normal" textLength="33.30" lengthAdjust="spacingAndGlyphs">7.20085</text>
<rect x="4" y="136" width="1102" height="2" fill="#ff0000"/>
<rect x="3" y="134" width="6" height="6" fill="#ff0000"/>
<rect x="5" y="136" width="2" height="2" fill="#ffffff"/>
<rect x="1100" y="134" width="6" height="6" fill="#ff0000"/>
<rect x="1102" y="136" width="2" height="2" fill="#ffffff"/>
<rect x="1108" y="131" width="39" height="11" fill="#ff0000"/>
<text x="1111.5" y="141" font-family="Liberation Sans" font-size="9.6" fill="#ffffff" font-weight="normal" textLength="33.30" lengthAdjust="spacingAndGlyphs">7.10023</text>
<rect x="4" y="236" width="1102" height="2" fill="#00ff00"/>
<rect x="3" y="234" width="6" height="6" fill="#00ff00"/>
<rect x="5" y="236" width="2" height="2" fill="#ffffff"/>
<rect x="1100" y="234" width="6" height="6" fill="#00ff00"/>
<rect x="1102" y="236" width="2" height="2" fill="#ffffff"/>
<rect x="1108" y="231" width="39" height="11" fill="#00ff00"/>
<text x="1111.5" y="241" font-family="Liberation Sans" font-size="9.6" fill="#ffffff" font-weight="normal" textLength="33.30" lengthAdjust="spacingAndGlyphs">7.00062</text>
<rect x="4" y="355" width="1102" height="2" fill="#0000cd"/>
<rect x="1108" y="350" width="39" height="11" fill="#0000cd"/>
<text x="1111.5" y="360" font-family="Liberation Sans" font-size="9.6" fill="#ffffff" font-weight="normal" textLength="33.30" lengthAdjust="spacingAndGlyphs">6.88207</text>
<rect x="1108" y="304" width="39" height="11" fill="#000000"/>
<text x="1111.5" y="314" font-family="Liberation Sans" font-size="9.6" fill="#ffffff" font-weight="normal" textLength="33.30" lengthAdjust="spacingAndGlyphs">6.92818</text>
<rect x="4" y="437" width="1" height="27" fill="#c0c0c0"/>
<rect x="8" y="433" width="1" height="31" fill="#c0c0c0"/>
<rect x="12" y="428" width="1" height="36" fill="#c0c0c0"/>
<rect x="16" y="425" width="1" height="39" fill="#c0c0c0"/>
<rect x="20" y="423" width="1" height="41" fill="#c0c0c0"/>
<rect x="24" y="422" width="1" height="42" fill="#c0c0c0"/>
<rect x="28" y="422" width="1" height="42" fill="#c0c0c0"/>
<rect x="32" y="423" width="1" height="41" fill="#c0c0c0"/>
<rect x="36" y="425" width="1" height="39" fill="#c0c0c0"/>
<rect x="40" y="427" width="1" height="37" fill="#c0c0c0"/>
<rect x="44" y="429" width="1" height="35" fill="#c0c0c0"/>
<rect x="48" y="431" width="1" height="33" fill="#c0c0c0"/>
<rect x="52" y="431" width="1" height="33" fill="#c0c0c0"/>
<rect x="56" y="433" width="1" height="31" fill="#c0c0c0"/>
<rect x="60" y="434" width="1" height="30" fill="#c0c0c0"/>
<rect x="64" y="435" width="1" height="29" fill="#c0c0c0"/>
<rect x="68" y="436" width="1" height="28" fill="#c0c0c0"/>
<rect x="72" y="438" width="1" height="26" fill="#c0c0c0"/>
<rect x="76" y="439" width="1" height="25" fill="#c0c0c0"/>
<rect x="80" y="441" width="1" height="23" fill="#c0c0c0"/>
<rect x="84" y="442" width="1" height="22" fill="#c0c0c0"/>
<rect x="88" y="442" width="1" height="22" fill="#c0c0c0"/>
<rect x="92" y="443" width="1" height="21" fill="#c0c0c0"/>
<rect x="96" y="445" width="1" height="19" fill="#c0c0c0"/>
<rect x="100" y="446" width="1" height="18" fill="#c0c0c0"/>
<rect x="104" y="447" width="1" height="17" fill="#c0c0c0"/>
<rect x="108" y="448" width="1" height="16" fill="#c0c0c0"/>
<rect x="112" y="449" width="1" height="15" fill="#c0c0c0"/>
<rect x="116" y="450" width="1" height="14" fill="#c0c0c0"/>
<rect x="120" y="453" width="1" height="11" fill="#c0c0c0"/>
<rect x="124" y="455" width="1" height="9" fill="#c0c0c0"/>
<rect x="128" y="459" width="1" height="5" fill="#c0c0c0"/>
<rect x="132" y="462" width="1" height="2" fill="#c0c0c0"/>
<rect x="136" y="463" width="1" height="1" fill="#c0c0c0"/>
<rect x="140" y="463" width="1" height="3" fill="#c0c0c0"/>
<rect x="144" y="463" width="1" height="4" fill="#c0c0c0"/>
<rect x="148" y="463" width="1" height="4" fill="#c0c0c0"/>
<rect x="152" y="463" width="1" height="5" fill="#c0c0c0"/>
<rect x="156" y="463" width="1" height="6" fill="#c0c0c0"/>
<rect x="160" y="463" width="1" height="6" fill="#c0c0c0"/>
<rect x="164" y="463" width="1" height="7" fill="#c0c0c0"/>
<rect x="168" y="463" width="1" height="6" fill="#c0c0c0"/>
<rect x="172" y="463" width="1" height="6" fill="#c0c0c0"/>
<rect x="176" y="463" width="1" height="6" fill="#c0c0c0"/>
<rect x="180" y="463" width="1" height="4" fill="#c0c0c0"/>
<rect x="184" y="463" width="1" height="3" fill="#c0c0c0"/>
<rect x="188" y="463" width="1" height="3" fill="#c0c0c0"/>
<rect x="192" y="463" width="1" height="2" fill="#c0c0c0"/>
<rect x="196" y="463" width="1" height="3" fill="#c0c0c0"/>
<rect x="200" y="463" width="1" height="4" fill="#c0c0c0"/>
<rect x="204" y="463" width="1" height="4" fill="#c0c0c0"/>
<rect x="208" y="463" width="1" height="4" fill="#c0c0c0"/>
<rect x="212" y="463" width="1" height="4" fill="#c0c0c0"/>
<rect x="216" y="463" width="1" height="4" fill="#c0c0c0"/>
<rect x="220" y="463" width="1" height="4" fill="#c0c0c0"/>
<rect x="224" y="463" width="1" height="3" fill="#c0c0c0"/>
<rect x="228" y="463" width="1" height="3" fill="#c0c0c0"/>
<rect x="232" y="463" width="1" height="3" fill="#c0c0c0"/>
<rect x="236" y="463" width="1" height="3" fill="#c0c0c0"/>
<rect x="240" y="463" width="1" height="2" fill="#c0c0c0"/>
<rect x="244" y="463" width="1" height="3" fill="#c0c0c0"/>
<rect x="248" y="463" width="1" height="3" fill="#c0c0c0"/>
<rect x="252" y="463" width="1" height="3" fill="#c0c0c0"/>
<rect x="256" y="463" width="1" height="2" fill="#c0c0c0"/>
<rect x="260" y="463" width="1" height="2" fill="#c0c0c0"/>
<rect x="264" y="463" width="1" height="1" fill="#c0c0c0"/>
<rect x="268" y="464" width="1" height="0" fill="#c0c0c0"/>
<rect x="272" y="462" width="1" height="2" fill="#c0c0c0"/>
<rect x="276" y="458" width="1" height="6" fill="#c0c0c0"/>
<rect x="280" y="454" width="1" height="10" fill="#c0c0c0"/>
<rect x="284" y="444" width="1" height="20" fill="#c0c0c0"/>
<rect x="288" y="439" width="1" height="25" fill="#c0c0c0"/>
<rect x="292" y="434" width="1" height="30" fill="#c0c0c0"/>
<rect x="296" y="431" width="1" height="33" fill="#c0c0c0"/>
<rect x="300" y="427" width="1" height="37" fill="#c0c0c0"/>
<rect x="304" y="425" width="1" height="39" fill="#c0c0c0"/>
<rect x="308" y="423" width="1" height="41" fill="#c0c0c0"/>
<rect x="312" y="427" width="1" height="37" fill="#c0c0c0"/>
<rect x="316" y="429" width="1" height="35" fill="#c0c0c0"/>
<rect x="320" y="431" width="1" height="33" fill="#c0c0c0"/>
<rect x="324" y="432" width="1" height="32" fill="#c0c0c0"/>
<rect x="328" y="434" width="1" height="30" fill="#c0c0c0"/>
<rect x="332" y="435" width="1" height="29" fill="#c0c0c0"/>
<rect x="336" y="436" width="1" height="28" fill="#c0c0c0"/>
<rect x="340" y="437" width="1" height="27" fill="#c0c0c0"/>
<rect x="344" y="436" width="1" height="28" fill="#c0c0c0"/>
<rect x="348" y="434" width="1" height="30" fill="#c0c0c0"/>
<rect x="352" y="433" width="1" height="31" fill="#c0c0c0"/>
<rect x="356" y="430" width="1" height="34" fill="#c0c0c0"/>
<rect x="360" y="428" width="1" height="36" fill="#c0c0c0"/>
<rect x="364" y="427" width="1" height="37" fill="#c0c0c0"/>
<rect x="368" y="428" width="1" height="36" fill="#c0c0c0"/>
<rect x="372" y="428" width="1" height="36" fill="#c0c0c0"/>
<rect x="376" y="428" width="1" height="36" fill="#c0c0c0"/>
<rect x="380" y="428" width="1" height="36" fill="#c0c0c0"/>
<rect x="384" y="428" width="1" height="36" fill="#c0c0c0"/>
<rect x="388" y="431" width="1" height="33" fill="#c0c0c0"/>
<rect x="392" y="434" width="1" height="30" fill="#c0c0c0"/>
<rect x="396" y="438" width="1" height="26" fill="#c0c0c0"/>
<rect x="400" y="442" width="1" height="22" fill="#c0c0c0"/>
<rect x="404" y="444" width="1" height="20" fill="#c0c0c0"/>
<rect x="408" y="447" width="1" height="17" fill="#c0c0c0"/>
<rect x="412" y="449" width="1" height="15" fill="#c0c0c0"/>
<rect x="416" y="454" width="1" height="10" fill="#c0c0c0"/>
<rect x="420" y="459" width="1" height="5" fill="#c0c0c0"/>
<rect x="424" y="463" width="1" height="1" fill="#c0c0c0"/>
<rect x="428" y="463" width="1" height="2" fill="#c0c0c0"/>
<rect x="432" y="463" width="1" height="2" fill="#c0c0c0"/>
<rect x="436" y="463" width="1" height="2" fill="#c0c0c0"/>
<rect x="440" y="463" width="1" height="2" fill="#c0c0c0"/>
<rect x="444" y="463" width="1" height="2" fill="#c0c0c0"/>
<rect x="448" y="463" width="1" height="1" fill="#c0c0c0"/>
<rect x="452" y="462" width="1" height="2" fill="#c0c0c0"/>
<rect x="456" y="461" width="1" height="3" fill="#c0c0c0"/>
<rect x="460" y="459" width="1" height="5" fill="#c0c0c0"/>
<rect x="464" y="458" width="1" height="6" fill="#c0c0c0"/>
<rect x="468" y="457" width="1" height="7" fill="#c0c0c0"/>
<rect x="472" y="456" width="1" height="8" fill="#c0c0c0"/>
<rect x="476" y="455" width="1" height="9" fill="#c0c0c0"/>
<rect x="480" y="454" width="1" height="10" fill="#c0c0c0"/>
<rect x="484" y="453" width="1" height="11" fill="#c0c0c0"/>
<rect x="488" y="454" width="1" height="10" fill="#c0c0c0"/>
<rect x="492" y="456" width="1" height="8" fill="#c0c0c0"/>
<rect x="496" y="457" width="1" height="7" fill="#c0c0c0"/>
<rect x="500" y="457" width="1" height="7" fill="#c0c0c0"/>
<rect x="504" y="456" width="1" height="8" fill="#c0c0c0"/>
<rect x="508" y="456" width="1" height="8" fill="#c0c0c0"/>
<rect x="512" y="458" width="1" height="6" fill="#c0c0c0"/>
<rect x="516" y="461" width="1" height="3" fill="#c0c0c0"/>
<rect x="520" y="463" width="1" height="1" fill="#c0c0c0"/>
<rect x="524" y="463" width="1" height="4" fill="#c0c0c0"/>
<rect x="528" y="463" width="1" height="5" fill="#c0c0c0"/>
<rect x="532" y="463" width="1" height="5" fill="#c0c0c0"/>
<rect x="536" y="463" width="1" height="6" fill="#c0c0c0"/>
<rect x="540" y="463" width="1" height="6" fill="#c0c0c0"/>
<rect x="544" y="463" width="1" height="7" fill="#c0c0c0"/>
<rect x="548" y="463" width="1" height="8" fill="#c0c0c0"/>
<rect x="552" y="463" width="1" height="8" fill="#c0c0c0"/>
<rect x="556" y="463" width="1" height="9" fill="#c0c0c0"/>
<rect x="560" y="463" width="1" height="9" fill="#c0c0c0"/>
<rect x="564" y="463" width="1" height="10" fill="#c0c0c0"/>
<rect x="568" y="463" width="1" height="11" fill="#c0c0c0"/>
<rect x="572" y="463" width="1" height="10" fill="#c0c0c0"/>
<rect x="576" y="463" width="1" height="10" fill="#c0c0c0"/>
<rect x="580" y="463" width="1" height="10" fill="#c0c0c0"/>
<rect x="584" y="463" width="1" height="11" fill="#c0c0c0"/>
<rect x="588" y="463" width="1" height="12" fill="#c0c0c0"/>
<rect x="592" y="463" width="1" height="12" fill="#c0c0c0"/>
<rect x="596" y="463" width="1" height="13" fill="#c0c0c0"/>
<rect x="600" y="463" width="1" height="15" fill="#c0c0c0"/>
<rect x="604" y="463" width="1" height="16" fill="#c0c0c0"/>
<rect x="608" y="463" width="1" height="19" fill="#c0c0c0"/>
<rect x="612" y="463" width="1" height="19" fill="#c0c0c0"/>
<rect x="616" y="463" width="1" height="20" fill="#c0c0c0"/>
<rect x="620" y="463" width="1" height="19" fill="#c0c0c0"/>
<rect x="624" y="463" width="1" height="18" fill="#c0c0c0"/>
<rect x="628" y="463" width="1" height="16" fill="#c0c0c0"/>
<rect x="632" y="463" width="1" height="14" fill="#c0c0c0"/>
<rect x="636" y="463" width="1" height="14" fill="#c0c0c0"/>
<rect x="640" y="463" width="1" height="14" fill="#c0c0c0"/>
<rect x="644" y="463" width="1" height="12" fill="#c0c0c0"/>
<rect x="648" y="463" width="1" height="11" fill="#c0c0c0"/>
<rect x="652" y="463" width="1" height="9" fill="#c0c0c0"/>
<rect x="656" y="463" width="1" height="8" fill="#c0c0c0"/>
<rect x="660" y="463" width="1" height="6" fill="#c0c0c0"/>
<rect x="664" y="463" width="1" height="4" fill="#c0c0c0"/>
<rect x="668" y="463" width="1" height="4" fill="#c0c0c0"/>
<rect x="672" y="463" width="1" height="5" fill="#c0c0c0"/>
<rect x="676" y="463" width="1" height="5" fill="#c0c0c0"/>
<rect x="680" y="463" width="1" height="4" fill="#c0c0c0"/>
<rect x="684" y="463" width="1" height="4" fill="#c0c0c0"/>
<rect x="688" y="463" width="1" height="3" fill="#c0c0c0"/>
<rect x="692" y="463" width="1" height="2" fill="#c0c0c0"/>
<rect x="696" y="462" width="1" height="2" fill="#c0c0c0"/>
<rect x="700" y="462" width="1" height="2" fill="#c0c0c0"/>
<rect x="704" y="462" width="1" height="2" fill="#c0c0c0"/>
<rect x="708" y="463" width="1" height="1" fill="#c0c0c0"/>
<rect x="712" y="463" width="1" height="1" fill="#c0c0c0"/>
<rect x="716" y="464" width="1" height="0" fill="#c0c0c0"/>
<rect x="720" y="463" width="1" height="1" fill="#c0c0c0"/>
<rect x="724" y="463" width="1" height="1" fill="#c0c0c0"/>
<rect x="728" y="463" width="1" height="4" fill="#c0c0c0"/>
<rect x="732" y="463" width="1" height="5" fill="#c0c0c0"/>
<rect x="736" y="463" width="1" height="6" fill="#c0c0c0"/>
<rect x="740" y="463" width="1" height="7" fill="#c0c0c0"/>
<rect x="744" y="463" width="1" height="8" fill="#c0c0c0"/>
<rect x="748" y="463" width="1" height="8" fill="#c0c0c0"/>
<rect x="752" y="463" width="1" height="8" fill="#c0c0c0"/>
<rect x="756" y="463" width="1" height="8" fill="#c0c0c0"/>
<rect x="760" y="463" width="1" height="8" fill="#c0c0c0"/>
<rect x="764" y="463" width="1" height="7" fill="#c0c0c0"/>
<rect x="768" y="463" width="1" height="7" fill="#c0c0c0"/>
<rect x="772" y="463" width="1" height="7" fill="#c0c0c0"/>
<rect x="776" y="463" width="1" height="7" fill="#c0c0c0"/>
<rect x="780" y="463" width="1" height="7" fill="#c0c0c0"/>
<rect x="784" y="463" width="1" height="7" fill="#c0c0c0"/>
<rect x="788" y="463" width="1" height="8" fill="#c0c0c0"/>
<rect x="792" y="463" width="1" height="9" fill="#c0c0c0"/>
<rect x="796" y="463" width="1" height="11" fill="#c0c0c0"/>
<rect x="800" y="463" width="1" height="12" fill="#c0c0c0"/>
<rect x="804" y="463" width="1" height="12" fill="#c0c0c0"/>
<rect x="808" y="463" width="1" height="12" fill="#c0c0c0"/>
<rect x="812" y="463" width="1" height="11" fill="#c0c0c0"/>
<rect x="816" y="463" width="1" height="12" fill="#c0c0c0"/>
<rect x="820" y="463" width="1" height="13" fill="#c0c0c0"/>
<rect x="824" y="463" width="1" height="14" fill="#c0c0c0"/>
<rect x="828" y="463" width="1" height="16" fill="#c0c0c0"/>
<rect x="832" y="463" width="1" height="18" fill="#c0c0c0"/>
<rect x="836" y="463" width="1" height="20" fill="#c0c0c0"/>
<rect x="840" y="463" width="1" height="21" fill="#c0c0c0"/>
<rect x="844" y="463" width="1" height="22" fill="#c0c0c0"/>
<rect x="848" y="463" width="1" height="23" fill="#c0c0c0"/>
<rect x="852" y="463" width="1" height="24" fill="#c0c0c0"/>
<rect x="856" y="463" width="1" height="25" fill="#c0c0c0"/>
<rect x="860" y="463" width="1" height="25" fill="#c0c0c0"/>
<rect x="864" y="463" width="1" height="23" fill="#c0c0c0"/>
<rect x="868" y="463" width="1" height="20" fill="#c0c0c0"/>
<rect x="872" y="463" width="1" height="17" fill="#c0c0c0"/>
<rect x="876" y="463" width="1" height="14" fill="#c0c0c0"/>
<polyline points="4.5,455.0 8.5,451.5 12.5,447.6 16.5,443.2 20.5,438.9 24.5,434.9 28.5,431.3 32.5,428.4 36.5,426.3 40.5,425.2 44.5,424.7 48.5,425.0 52.5,425.7 56.5,426.8 60.5,428.1 64.5,429.5 68.5,431.0 72.5,432.5 76.5,433.9 80.5,435.3 84.5,436.5 88.5,437.7 92.5,438.9 96.5,440.1 100.5,441.3 104.5,442.6 108.5,443.7 112.5,444.8 116.5,445.8 120.5,447.0 124.5,448.4 128.5,450.2 132.5,452.1 136.5,454.1 140.5,456.2 144.5,458.3 148.5,460.3 152.5,462.3 156.5,464.1 160.5,465.7 164.5,466.9 168.5,467.7 172.5,468.2 176.5,468.5 180.5,468.5 184.5,468.4 188.5,468.2 192.5,467.9 196.5,467.5 200.5,467.2 204.5,466.9 208.5,466.7 212.5,466.5 216.5,466.4 220.5,466.4 224.5,466.5 228.5,466.6 232.5,466.5 236.5,466.4 240.5,466.2 244.5,466.1 248.5,466.0 252.5,465.9 256.5,465.7 260.5,465.5 264.5,465.3 268.5,465.0 272.5,464.7 276.5,463.9 280.5,462.5 284.5,460.1 288.5,457.2 292.5,453.7 296.5,449.9 300.5,445.8 304.5,441.5 308.5,437.2 312.5,433.8 316.5,431.1 320.5,429.6 324.5,428.8 328.5,428.9 332.5,429.4 336.5,430.4 340.5,431.7 344.5,433.1 348.5,433.9 352.5,434.3 356.5,434.2 360.5,433.7 364.5,432.8 368.5,432.0 372.5,431.2 376.5,430.2 380.5,429.3 384.5,428.6 388.5,428.4 392.5,428.9 396.5,430.0 400.5,431.6 404.5,433.4 408.5,435.5 412.5,437.8 416.5,440.7 420.5,444.2 424.5,447.8 428.5,451.2 432.5,454.2 436.5,456.8 440.5,459.1 444.5,461.0 448.5,462.6 452.5,463.5 456.5,463.6 460.5,463.2 464.5,462.5 468.5,461.6 472.5,460.5 476.5,459.5 480.5,458.3 484.5,457.2 488.5,456.3 492.5,455.8 496.5,455.6 500.5,455.5 504.5,455.4 508.5,455.5 512.5,455.9 516.5,456.7 520.5,457.9 524.5,459.3 528.5,460.6 532.5,461.8 536.5,463.0 540.5,464.5 544.5,466.0 548.5,467.4 552.5,468.5 556.5,469.4 560.5,470.0 564.5,470.6 568.5,471.2 572.5,471.8 576.5,472.2 580.5,472.5 584.5,472.9 588.5,473.3 592.5,473.6 596.5,474.0 600.5,474.6 604.5,475.2 608.5,476.2 612.5,477.2 616.5,478.2 620.5,479.1 624.5,479.8 628.5,480.2 632.5,480.4 636.5,480.3 640.5,480.0 644.5,479.3 648.5,478.3 652.5,477.1 656.5,475.8 660.5,474.5 664.5,473.2 668.5,472.1 672.5,471.0 676.5,470.0 680.5,469.1 684.5,468.3 688.5,467.7 692.5,467.1 696.5,466.4 700.5,465.8 704.5,465.2 708.5,464.7 712.5,464.3 716.5,463.9 720.5,463.6 724.5,463.4 728.5,463.6 732.5,464.2 736.5,464.9 740.5,465.8 744.5,466.7 748.5,467.5 752.5,468.3 756.5,469.1 760.5,469.8 764.5,470.2 768.5,470.4 772.5,470.5 776.5,470.5 780.5,470.4 784.5,470.4 788.5,470.4 792.5,470.5 796.5,470.9 800.5,471.3 804.5,471.9 808.5,472.5 812.5,473.0 816.5,473.5 820.5,474.2 824.5,474.9 828.5,475.6 832.5,476.4 836.5,477.3 840.5,478.3 844.5,479.5 848.5,480.8 852.5,482.1 856.5,483.4 860.5,484.6 864.5,485.3 868.5,485.6 872.5,485.3 876.5,484.5" fill="none" stroke="#ff0000" stroke-width="1" stroke-dasharray="3,3" clip-path="url(#macdclip)"/>
<text x="8.199999999999996" y="430" font-family="Liberation Sans" font-size="10.5" fill="#000" font-weight="normal" textLength="153.36" lengthAdjust="spacingAndGlyphs">MACD(12,26,9)&#160;-0.018935&#160;-0.029190</text>
<rect x="1107" y="419" width="1" height="1" fill="#000000"/>
<rect x="1107" y="463" width="1" height="1" fill="#000000"/>
<rect x="1107" y="490" width="1" height="1" fill="#000000"/>
<rect x="1107" y="495" width="1" height="1" fill="#000000"/>
<text x="1110" y="428" font-family="Liberation Sans" font-size="10" fill="#000" font-weight="normal" textLength="39.00" lengthAdjust="spacingAndGlyphs">0.063113</text>
<text x="1109.7999999999993" y="467" font-family="Liberation Sans" font-size="10" fill="#000" font-weight="normal" textLength="18.27" lengthAdjust="spacingAndGlyphs">0.00</text>
<text x="1110" y="488" font-family="Liberation Sans" font-size="10" fill="#000" font-weight="normal" textLength="39.50" lengthAdjust="spacingAndGlyphs">-0.03887</text>
<rect x="5" y="520" width="3" height="1" fill="#c0c0c0"/>
<rect x="11" y="520" width="3" height="1" fill="#c0c0c0"/>
<rect x="17" y="520" width="3" height="1" fill="#c0c0c0"/>
<rect x="23" y="520" width="3" height="1" fill="#c0c0c0"/>
<rect x="29" y="520" width="3" height="1" fill="#c0c0c0"/>
<rect x="35" y="520" width="3" height="1" fill="#c0c0c0"/>
<rect x="41" y="520" width="3" height="1" fill="#c0c0c0"/>
<rect x="47" y="520" width="3" height="1" fill="#c0c0c0"/>
<rect x="53" y="520" width="3" height="1" fill="#c0c0c0"/>
<rect x="59" y="520" width="3" height="1" fill="#c0c0c0"/>
<rect x="65" y="520" width="3" height="1" fill="#c0c0c0"/>
<rect x="71" y="520" width="3" height="1" fill="#c0c0c0"/>
<rect x="77" y="520" width="3" height="1" fill="#c0c0c0"/>
<rect x="83" y="520" width="3" height="1" fill="#c0c0c0"/>
<rect x="89" y="520" width="3" height="1" fill="#c0c0c0"/>
<rect x="95" y="520" width="3" height="1" fill="#c0c0c0"/>
<rect x="101" y="520" width="3" height="1" fill="#c0c0c0"/>
<rect x="107" y="520" width="3" height="1" fill="#c0c0c0"/>
<rect x="113" y="520" width="3" height="1" fill="#c0c0c0"/>
<rect x="119" y="520" width="3" height="1" fill="#c0c0c0"/>
<rect x="125" y="520" width="3" height="1" fill="#c0c0c0"/>
<rect x="131" y="520" width="3" height="1" fill="#c0c0c0"/>
<rect x="137" y="520" width="3" height="1" fill="#c0c0c0"/>
<rect x="143" y="520" width="3" height="1" fill="#c0c0c0"/>
<rect x="149" y="520" width="3" height="1" fill="#c0c0c0"/>
<rect x="155" y="520" width="3" height="1" fill="#c0c0c0"/>
<rect x="161" y="520" width="3" height="1" fill="#c0c0c0"/>
<rect x="167" y="520" width="3" height="1" fill="#c0c0c0"/>
<rect x="173" y="520" width="3" height="1" fill="#c0c0c0"/>
<rect x="179" y="520" width="3" height="1" fill="#c0c0c0"/>
<rect x="185" y="520" width="3" height="1" fill="#c0c0c0"/>
<rect x="191" y="520" width="3" height="1" fill="#c0c0c0"/>
<rect x="197" y="520" width="3" height="1" fill="#c0c0c0"/>
<rect x="203" y="520" width="3" height="1" fill="#c0c0c0"/>
<rect x="209" y="520" width="3" height="1" fill="#c0c0c0"/>
<rect x="215" y="520" width="3" height="1" fill="#c0c0c0"/>
<rect x="221" y="520" width="3" height="1" fill="#c0c0c0"/>
<rect x="227" y="520" width="3" height="1" fill="#c0c0c0"/>
<rect x="233" y="520" width="3" height="1" fill="#c0c0c0"/>
<rect x="239" y="520" width="3" height="1" fill="#c0c0c0"/>
<rect x="245" y="520" width="3" height="1" fill="#c0c0c0"/>
<rect x="251" y="520" width="3" height="1" fill="#c0c0c0"/>
<rect x="257" y="520" width="3" height="1" fill="#c0c0c0"/>
<rect x="263" y="520" width="3" height="1" fill="#c0c0c0"/>
<rect x="269" y="520" width="3" height="1" fill="#c0c0c0"/>
<rect x="275" y="520" width="3" height="1" fill="#c0c0c0"/>
<rect x="281" y="520" width="3" height="1" fill="#c0c0c0"/>
<rect x="287" y="520" width="3" height="1" fill="#c0c0c0"/>
<rect x="293" y="520" width="3" height="1" fill="#c0c0c0"/>
<rect x="299" y="520" width="3" height="1" fill="#c0c0c0"/>
<rect x="305" y="520" width="3" height="1" fill="#c0c0c0"/>
<rect x="311" y="520" width="3" height="1" fill="#c0c0c0"/>
<rect x="317" y="520" width="3" height="1" fill="#c0c0c0"/>
<rect x="323" y="520" width="3" height="1" fill="#c0c0c0"/>
<rect x="329" y="520" width="3" height="1" fill="#c0c0c0"/>
<rect x="335" y="520" width="3" height="1" fill="#c0c0c0"/>
<rect x="341" y="520" width="3" height="1" fill="#c0c0c0"/>
<rect x="347" y="520" width="3" height="1" fill="#c0c0c0"/>
<rect x="353" y="520" width="3" height="1" fill="#c0c0c0"/>
<rect x="359" y="520" width="3" height="1" fill="#c0c0c0"/>
<rect x="365" y="520" width="3" height="1" fill="#c0c0c0"/>
<rect x="371" y="520" width="3" height="1" fill="#c0c0c0"/>
<rect x="377" y="520" width="3" height="1" fill="#c0c0c0"/>
<rect x="383" y="520" width="3" height="1" fill="#c0c0c0"/>
<rect x="389" y="520" width="3" height="1" fill="#c0c0c0"/>
<rect x="395" y="520" width="3" height="1" fill="#c0c0c0"/>
<rect x="401" y="520" width="3" height="1" fill="#c0c0c0"/>
<rect x="407" y="520" width="3" height="1" fill="#c0c0c0"/>
<rect x="413" y="520" width="3" height="1" fill="#c0c0c0"/>
<rect x="419" y="520" width="3" height="1" fill="#c0c0c0"/>
<rect x="425" y="520" width="3" height="1" fill="#c0c0c0"/>
<rect x="431" y="520" width="3" height="1" fill="#c0c0c0"/>
<rect x="437" y="520" width="3" height="1" fill="#c0c0c0"/>
<rect x="443" y="520" width="3" height="1" fill="#c0c0c0"/>
<rect x="449" y="520" width="3" height="1" fill="#c0c0c0"/>
<rect x="455" y="520" width="3" height="1" fill="#c0c0c0"/>
<rect x="461" y="520" width="3" height="1" fill="#c0c0c0"/>
<rect x="467" y="520" width="3" height="1" fill="#c0c0c0"/>
<rect x="473" y="520" width="3" height="1" fill="#c0c0c0"/>
<rect x="479" y="520" width="3" height="1" fill="#c0c0c0"/>
<rect x="485" y="520" width="3" height="1" fill="#c0c0c0"/>
<rect x="491" y="520" width="3" height="1" fill="#c0c0c0"/>
<rect x="497" y="520" width="3" height="1" fill="#c0c0c0"/>
<rect x="503" y="520" width="3" height="1" fill="#c0c0c0"/>
<rect x="509" y="520" width="3" height="1" fill="#c0c0c0"/>
<rect x="515" y="520" width="3" height="1" fill="#c0c0c0"/>
<rect x="521" y="520" width="3" height="1" fill="#c0c0c0"/>
<rect x="527" y="520" width="3" height="1" fill="#c0c0c0"/>
<rect x="533" y="520" width="3" height="1" fill="#c0c0c0"/>
<rect x="539" y="520" width="3" height="1" fill="#c0c0c0"/>
<rect x="545" y="520" width="3" height="1" fill="#c0c0c0"/>
<rect x="551" y="520" width="3" height="1" fill="#c0c0c0"/>
<rect x="557" y="520" width="3" height="1" fill="#c0c0c0"/>
<rect x="563" y="520" width="3" height="1" fill="#c0c0c0"/>
<rect x="569" y="520" width="3" height="1" fill="#c0c0c0"/>
<rect x="575" y="520" width="3" height="1" fill="#c0c0c0"/>
<rect x="581" y="520" width="3" height="1" fill="#c0c0c0"/>
<rect x="587" y="520" width="3" height="1" fill="#c0c0c0"/>
<rect x="593" y="520" width="3" height="1" fill="#c0c0c0"/>
<rect x="599" y="520" width="3" height="1" fill="#c0c0c0"/>
<rect x="605" y="520" width="3" height="1" fill="#c0c0c0"/>
<rect x="611" y="520" width="3" height="1" fill="#c0c0c0"/>
<rect x="617" y="520" width="3" height="1" fill="#c0c0c0"/>
<rect x="623" y="520" width="3" height="1" fill="#c0c0c0"/>
<rect x="629" y="520" width="3" height="1" fill="#c0c0c0"/>
<rect x="635" y="520" width="3" height="1" fill="#c0c0c0"/>
<rect x="641" y="520" width="3" height="1" fill="#c0c0c0"/>
<rect x="647" y="520" width="3" height="1" fill="#c0c0c0"/>
<rect x="653" y="520" width="3" height="1" fill="#c0c0c0"/>
<rect x="659" y="520" width="3" height="1" fill="#c0c0c0"/>
<rect x="665" y="520" width="3" height="1" fill="#c0c0c0"/>
<rect x="671" y="520" width="3" height="1" fill="#c0c0c0"/>
<rect x="677" y="520" width="3" height="1" fill="#c0c0c0"/>
<rect x="683" y="520" width="3" height="1" fill="#c0c0c0"/>
<rect x="689" y="520" width="3" height="1" fill="#c0c0c0"/>
<rect x="695" y="520" width="3" height="1" fill="#c0c0c0"/>
<rect x="701" y="520" width="3" height="1" fill="#c0c0c0"/>
<rect x="707" y="520" width="3" height="1" fill="#c0c0c0"/>
<rect x="713" y="520" width="3" height="1" fill="#c0c0c0"/>
<rect x="719" y="520" width="3" height="1" fill="#c0c0c0"/>
<rect x="725" y="520" width="3" height="1" fill="#c0c0c0"/>
<rect x="731" y="520" width="3" height="1" fill="#c0c0c0"/>
<rect x="737" y="520" width="3" height="1" fill="#c0c0c0"/>
<rect x="743" y="520" width="3" height="1" fill="#c0c0c0"/>
<rect x="749" y="520" width="3" height="1" fill="#c0c0c0"/>
<rect x="755" y="520" width="3" height="1" fill="#c0c0c0"/>
<rect x="761" y="520" width="3" height="1" fill="#c0c0c0"/>
<rect x="767" y="520" width="3" height="1" fill="#c0c0c0"/>
<rect x="773" y="520" width="3" height="1" fill="#c0c0c0"/>
<rect x="779" y="520" width="3" height="1" fill="#c0c0c0"/>
<rect x="785" y="520" width="3" height="1" fill="#c0c0c0"/>
<rect x="791" y="520" width="3" height="1" fill="#c0c0c0"/>
<rect x="797" y="520" width="3" height="1" fill="#c0c0c0"/>
<rect x="803" y="520" width="3" height="1" fill="#c0c0c0"/>
<rect x="809" y="520" width="3" height="1" fill="#c0c0c0"/>
<rect x="815" y="520" width="3" height="1" fill="#c0c0c0"/>
<rect x="821" y="520" width="3" height="1" fill="#c0c0c0"/>
<rect x="827" y="520" width="3" height="1" fill="#c0c0c0"/>
<rect x="833" y="520" width="3" height="1" fill="#c0c0c0"/>
<rect x="839" y="520" width="3" height="1" fill="#c0c0c0"/>
<rect x="845" y="520" width="3" height="1" fill="#c0c0c0"/>
<rect x="851" y="520" width="3" height="1" fill="#c0c0c0"/>
<rect x="857" y="520" width="3" height="1" fill="#c0c0c0"/>
<rect x="863" y="520" width="3" height="1" fill="#c0c0c0"/>
<rect x="869" y="520" width="3" height="1" fill="#c0c0c0"/>
<rect x="875" y="520" width="3" height="1" fill="#c0c0c0"/>
<rect x="881" y="520" width="3" height="1" fill="#c0c0c0"/>
<rect x="887" y="520" width="3" height="1" fill="#c0c0c0"/>
<rect x="893" y="520" width="3" height="1" fill="#c0c0c0"/>
<rect x="899" y="520" width="3" height="1" fill="#c0c0c0"/>
<rect x="905" y="520" width="3" height="1" fill="#c0c0c0"/>
<rect x="911" y="520" width="3" height="1" fill="#c0c0c0"/>
<rect x="917" y="520" width="3" height="1" fill="#c0c0c0"/>
<rect x="923" y="520" width="3" height="1" fill="#c0c0c0"/>
<rect x="929" y="520" width="3" height="1" fill="#c0c0c0"/>
<rect x="935" y="520" width="3" height="1" fill="#c0c0c0"/>
<rect x="941" y="520" width="3" height="1" fill="#c0c0c0"/>
<rect x="947" y="520" width="3" height="1" fill="#c0c0c0"/>
<rect x="953" y="520" width="3" height="1" fill="#c0c0c0"/>
<rect x="959" y="520" width="3" height="1" fill="#c0c0c0"/>
<rect x="965" y="520" width="3" height="1" fill="#c0c0c0"/>
<rect x="971" y="520" width="3" height="1" fill="#c0c0c0"/>
<rect x="977" y="520" width="3" height="1" fill="#c0c0c0"/>
<rect x="983" y="520" width="3" height="1" fill="#c0c0c0"/>
<rect x="989" y="520" width="3" height="1" fill="#c0c0c0"/>
<rect x="995" y="520" width="3" height="1" fill="#c0c0c0"/>
<rect x="1001" y="520" width="3" height="1" fill="#c0c0c0"/>
<rect x="1007" y="520" width="3" height="1" fill="#c0c0c0"/>
<rect x="1013" y="520" width="3" height="1" fill="#c0c0c0"/>
<rect x="1019" y="520" width="3" height="1" fill="#c0c0c0"/>
<rect x="1025" y="520" width="3" height="1" fill="#c0c0c0"/>
<rect x="1031" y="520" width="3" height="1" fill="#c0c0c0"/>
<rect x="1037" y="520" width="3" height="1" fill="#c0c0c0"/>
<rect x="1043" y="520" width="3" height="1" fill="#c0c0c0"/>
<rect x="1049" y="520" width="3" height="1" fill="#c0c0c0"/>
<rect x="1055" y="520" width="3" height="1" fill="#c0c0c0"/>
<rect x="1061" y="520" width="3" height="1" fill="#c0c0c0"/>
<rect x="1067" y="520" width="3" height="1" fill="#c0c0c0"/>
<rect x="1073" y="520" width="3" height="1" fill="#c0c0c0"/>
<rect x="1079" y="520" width="3" height="1" fill="#c0c0c0"/>
<rect x="1085" y="520" width="3" height="1" fill="#c0c0c0"/>
<rect x="1091" y="520" width="3" height="1" fill="#c0c0c0"/>
<rect x="1097" y="520" width="3" height="1" fill="#c0c0c0"/>
<rect x="1103" y="520" width="3" height="1" fill="#c0c0c0"/>
<rect x="5" y="554" width="3" height="1" fill="#c0c0c0"/>
<rect x="11" y="554" width="3" height="1" fill="#c0c0c0"/>
<rect x="17" y="554" width="3" height="1" fill="#c0c0c0"/>
<rect x="23" y="554" width="3" height="1" fill="#c0c0c0"/>
<rect x="29" y="554" width="3" height="1" fill="#c0c0c0"/>
<rect x="35" y="554" width="3" height="1" fill="#c0c0c0"/>
<rect x="41" y="554" width="3" height="1" fill="#c0c0c0"/>
<rect x="47" y="554" width="3" height="1" fill="#c0c0c0"/>
<rect x="53" y="554" width="3" height="1" fill="#c0c0c0"/>
<rect x="59" y="554" width="3" height="1" fill="#c0c0c0"/>
<rect x="65" y="554" width="3" height="1" fill="#c0c0c0"/>
<rect x="71" y="554" width="3" height="1" fill="#c0c0c0"/>
<rect x="77" y="554" width="3" height="1" fill="#c0c0c0"/>
<rect x="83" y="554" width="3" height="1" fill="#c0c0c0"/>
<rect x="89" y="554" width="3" height="1" fill="#c0c0c0"/>
<rect x="95" y="554" width="3" height="1" fill="#c0c0c0"/>
<rect x="101" y="554" width="3" height="1" fill="#c0c0c0"/>
<rect x="107" y="554" width="3" height="1" fill="#c0c0c0"/>
<rect x="113" y="554" width="3" height="1" fill="#c0c0c0"/>
<rect x="119" y="554" width="3" height="1" fill="#c0c0c0"/>
<rect x="125" y="554" width="3" height="1" fill="#c0c0c0"/>
<rect x="131" y="554" width="3" height="1" fill="#c0c0c0"/>
<rect x="137" y="554" width="3" height="1" fill="#c0c0c0"/>
<rect x="143" y="554" width="3" height="1" fill="#c0c0c0"/>
<rect x="149" y="554" width="3" height="1" fill="#c0c0c0"/>
<rect x="155" y="554" width="3" height="1" fill="#c0c0c0"/>
<rect x="161" y="554" width="3" height="1" fill="#c0c0c0"/>
<rect x="167" y="554" width="3" height="1" fill="#c0c0c0"/>
<rect x="173" y="554" width="3" height="1" fill="#c0c0c0"/>
<rect x="179" y="554" width="3" height="1" fill="#c0c0c0"/>
<rect x="185" y="554" width="3" height="1" fill="#c0c0c0"/>
<rect x="191" y="554" width="3" height="1" fill="#c0c0c0"/>
<rect x="197" y="554" width="3" height="1" fill="#c0c0c0"/>
<rect x="203" y="554" width="3" height="1" fill="#c0c0c0"/>
<rect x="209" y="554" width="3" height="1" fill="#c0c0c0"/>
<rect x="215" y="554" width="3" height="1" fill="#c0c0c0"/>
<rect x="221" y="554" width="3" height="1" fill="#c0c0c0"/>
<rect x="227" y="554" width="3" height="1" fill="#c0c0c0"/>
<rect x="233" y="554" width="3" height="1" fill="#c0c0c0"/>
<rect x="239" y="554" width="3" height="1" fill="#c0c0c0"/>
<rect x="245" y="554" width="3" height="1" fill="#c0c0c0"/>
<rect x="251" y="554" width="3" height="1" fill="#c0c0c0"/>
<rect x="257" y="554" width="3" height="1" fill="#c0c0c0"/>
<rect x="263" y="554" width="3" height="1" fill="#c0c0c0"/>
<rect x="269" y="554" width="3" height="1" fill="#c0c0c0"/>
<rect x="275" y="554" width="3" height="1" fill="#c0c0c0"/>
<rect x="281" y="554" width="3" height="1" fill="#c0c0c0"/>
<rect x="287" y="554" width="3" height="1" fill="#c0c0c0"/>
<rect x="293" y="554" width="3" height="1" fill="#c0c0c0"/>
<rect x="299" y="554" width="3" height="1" fill="#c0c0c0"/>
<rect x="305" y="554" width="3" height="1" fill="#c0c0c0"/>
<rect x="311" y="554" width="3" height="1" fill="#c0c0c0"/>
<rect x="317" y="554" width="3" height="1" fill="#c0c0c0"/>
<rect x="323" y="554" width="3" height="1" fill="#c0c0c0"/>
<rect x="329" y="554" width="3" height="1" fill="#c0c0c0"/>
<rect x="335" y="554" width="3" height="1" fill="#c0c0c0"/>
<rect x="341" y="554" width="3" height="1" fill="#c0c0c0"/>
<rect x="347" y="554" width="3" height="1" fill="#c0c0c0"/>
<rect x="353" y="554" width="3" height="1" fill="#c0c0c0"/>
<rect x="359" y="554" width="3" height="1" fill="#c0c0c0"/>
<rect x="365" y="554" width="3" height="1" fill="#c0c0c0"/>
<rect x="371" y="554" width="3" height="1" fill="#c0c0c0"/>
<rect x="377" y="554" width="3" height="1" fill="#c0c0c0"/>
<rect x="383" y="554" width="3" height="1" fill="#c0c0c0"/>
<rect x="389" y="554" width="3" height="1" fill="#c0c0c0"/>
<rect x="395" y="554" width="3" height="1" fill="#c0c0c0"/>
<rect x="401" y="554" width="3" height="1" fill="#c0c0c0"/>
<rect x="407" y="554" width="3" height="1" fill="#c0c0c0"/>
<rect x="413" y="554" width="3" height="1" fill="#c0c0c0"/>
<rect x="419" y="554" width="3" height="1" fill="#c0c0c0"/>
<rect x="425" y="554" width="3" height="1" fill="#c0c0c0"/>
<rect x="431" y="554" width="3" height="1" fill="#c0c0c0"/>
<rect x="437" y="554" width="3" height="1" fill="#c0c0c0"/>
<rect x="443" y="554" width="3" height="1" fill="#c0c0c0"/>
<rect x="449" y="554" width="3" height="1" fill="#c0c0c0"/>
<rect x="455" y="554" width="3" height="1" fill="#c0c0c0"/>
<rect x="461" y="554" width="3" height="1" fill="#c0c0c0"/>
<rect x="467" y="554" width="3" height="1" fill="#c0c0c0"/>
<rect x="473" y="554" width="3" height="1" fill="#c0c0c0"/>
<rect x="479" y="554" width="3" height="1" fill="#c0c0c0"/>
<rect x="485" y="554" width="3" height="1" fill="#c0c0c0"/>
<rect x="491" y="554" width="3" height="1" fill="#c0c0c0"/>
<rect x="497" y="554" width="3" height="1" fill="#c0c0c0"/>
<rect x="503" y="554" width="3" height="1" fill="#c0c0c0"/>
<rect x="509" y="554" width="3" height="1" fill="#c0c0c0"/>
<rect x="515" y="554" width="3" height="1" fill="#c0c0c0"/>
<rect x="521" y="554" width="3" height="1" fill="#c0c0c0"/>
<rect x="527" y="554" width="3" height="1" fill="#c0c0c0"/>
<rect x="533" y="554" width="3" height="1" fill="#c0c0c0"/>
<rect x="539" y="554" width="3" height="1" fill="#c0c0c0"/>
<rect x="545" y="554" width="3" height="1" fill="#c0c0c0"/>
<rect x="551" y="554" width="3" height="1" fill="#c0c0c0"/>
<rect x="557" y="554" width="3" height="1" fill="#c0c0c0"/>
<rect x="563" y="554" width="3" height="1" fill="#c0c0c0"/>
<rect x="569" y="554" width="3" height="1" fill="#c0c0c0"/>
<rect x="575" y="554" width="3" height="1" fill="#c0c0c0"/>
<rect x="581" y="554" width="3" height="1" fill="#c0c0c0"/>
<rect x="587" y="554" width="3" height="1" fill="#c0c0c0"/>
<rect x="593" y="554" width="3" height="1" fill="#c0c0c0"/>
<rect x="599" y="554" width="3" height="1" fill="#c0c0c0"/>
<rect x="605" y="554" width="3" height="1" fill="#c0c0c0"/>
<rect x="611" y="554" width="3" height="1" fill="#c0c0c0"/>
<rect x="617" y="554" width="3" height="1" fill="#c0c0c0"/>
<rect x="623" y="554" width="3" height="1" fill="#c0c0c0"/>
<rect x="629" y="554" width="3" height="1" fill="#c0c0c0"/>
<rect x="635" y="554" width="3" height="1" fill="#c0c0c0"/>
<rect x="641" y="554" width="3" height="1" fill="#c0c0c0"/>
<rect x="647" y="554" width="3" height="1" fill="#c0c0c0"/>
<rect x="653" y="554" width="3" height="1" fill="#c0c0c0"/>
<rect x="659" y="554" width="3" height="1" fill="#c0c0c0"/>
<rect x="665" y="554" width="3" height="1" fill="#c0c0c0"/>
<rect x="671" y="554" width="3" height="1" fill="#c0c0c0"/>
<rect x="677" y="554" width="3" height="1" fill="#c0c0c0"/>
<rect x="683" y="554" width="3" height="1" fill="#c0c0c0"/>
<rect x="689" y="554" width="3" height="1" fill="#c0c0c0"/>
<rect x="695" y="554" width="3" height="1" fill="#c0c0c0"/>
<rect x="701" y="554" width="3" height="1" fill="#c0c0c0"/>
<rect x="707" y="554" width="3" height="1" fill="#c0c0c0"/>
<rect x="713" y="554" width="3" height="1" fill="#c0c0c0"/>
<rect x="719" y="554" width="3" height="1" fill="#c0c0c0"/>
<rect x="725" y="554" width="3" height="1" fill="#c0c0c0"/>
<rect x="731" y="554" width="3" height="1" fill="#c0c0c0"/>
<rect x="737" y="554" width="3" height="1" fill="#c0c0c0"/>
<rect x="743" y="554" width="3" height="1" fill="#c0c0c0"/>
<rect x="749" y="554" width="3" height="1" fill="#c0c0c0"/>
<rect x="755" y="554" width="3" height="1" fill="#c0c0c0"/>
<rect x="761" y="554" width="3" height="1" fill="#c0c0c0"/>
<rect x="767" y="554" width="3" height="1" fill="#c0c0c0"/>
<rect x="773" y="554" width="3" height="1" fill="#c0c0c0"/>
<rect x="779" y="554" width="3" height="1" fill="#c0c0c0"/>
<rect x="785" y="554" width="3" height="1" fill="#c0c0c0"/>
<rect x="791" y="554" width="3" height="1" fill="#c0c0c0"/>
<rect x="797" y="554" width="3" height="1" fill="#c0c0c0"/>
<rect x="803" y="554" width="3" height="1" fill="#c0c0c0"/>
<rect x="809" y="554" width="3" height="1" fill="#c0c0c0"/>
<rect x="815" y="554" width="3" height="1" fill="#c0c0c0"/>
<rect x="821" y="554" width="3" height="1" fill="#c0c0c0"/>
<rect x="827" y="554" width="3" height="1" fill="#c0c0c0"/>
<rect x="833" y="554" width="3" height="1" fill="#c0c0c0"/>
<rect x="839" y="554" width="3" height="1" fill="#c0c0c0"/>
<rect x="845" y="554" width="3" height="1" fill="#c0c0c0"/>
<rect x="851" y="554" width="3" height="1" fill="#c0c0c0"/>
<rect x="857" y="554" width="3" height="1" fill="#c0c0c0"/>
<rect x="863" y="554" width="3" height="1" fill="#c0c0c0"/>
<rect x="869" y="554" width="3" height="1" fill="#c0c0c0"/>
<rect x="875" y="554" width="3" height="1" fill="#c0c0c0"/>
<rect x="881" y="554" width="3" height="1" fill="#c0c0c0"/>
<rect x="887" y="554" width="3" height="1" fill="#c0c0c0"/>
<rect x="893" y="554" width="3" height="1" fill="#c0c0c0"/>
<rect x="899" y="554" width="3" height="1" fill="#c0c0c0"/>
<rect x="905" y="554" width="3" height="1" fill="#c0c0c0"/>
<rect x="911" y="554" width="3" height="1" fill="#c0c0c0"/>
<rect x="917" y="554" width="3" height="1" fill="#c0c0c0"/>
<rect x="923" y="554" width="3" height="1" fill="#c0c0c0"/>
<rect x="929" y="554" width="3" height="1" fill="#c0c0c0"/>
<rect x="935" y="554" width="3" height="1" fill="#c0c0c0"/>
<rect x="941" y="554" width="3" height="1" fill="#c0c0c0"/>
<rect x="947" y="554" width="3" height="1" fill="#c0c0c0"/>
<rect x="953" y="554" width="3" height="1" fill="#c0c0c0"/>
<rect x="959" y="554" width="3" height="1" fill="#c0c0c0"/>
<rect x="965" y="554" width="3" height="1" fill="#c0c0c0"/>
<rect x="971" y="554" width="3" height="1" fill="#c0c0c0"/>
<rect x="977" y="554" width="3" height="1" fill="#c0c0c0"/>
<rect x="983" y="554" width="3" height="1" fill="#c0c0c0"/>
<rect x="989" y="554" width="3" height="1" fill="#c0c0c0"/>
<rect x="995" y="554" width="3" height="1" fill="#c0c0c0"/>
<rect x="1001" y="554" width="3" height="1" fill="#c0c0c0"/>
<rect x="1007" y="554" width="3" height="1" fill="#c0c0c0"/>
<rect x="1013" y="554" width="3" height="1" fill="#c0c0c0"/>
<rect x="1019" y="554" width="3" height="1" fill="#c0c0c0"/>
<rect x="1025" y="554" width="3" height="1" fill="#c0c0c0"/>
<rect x="1031" y="554" width="3" height="1" fill="#c0c0c0"/>
<rect x="1037" y="554" width="3" height="1" fill="#c0c0c0"/>
<rect x="1043" y="554" width="3" height="1" fill="#c0c0c0"/>
<rect x="1049" y="554" width="3" height="1" fill="#c0c0c0"/>
<rect x="1055" y="554" width="3" height="1" fill="#c0c0c0"/>
<rect x="1061" y="554" width="3" height="1" fill="#c0c0c0"/>
<rect x="1067" y="554" width="3" height="1" fill="#c0c0c0"/>
<rect x="1073" y="554" width="3" height="1" fill="#c0c0c0"/>
<rect x="1079" y="554" width="3" height="1" fill="#c0c0c0"/>
<rect x="1085" y="554" width="3" height="1" fill="#c0c0c0"/>
<rect x="1091" y="554" width="3" height="1" fill="#c0c0c0"/>
<rect x="1097" y="554" width="3" height="1" fill="#c0c0c0"/>
<rect x="1103" y="554" width="3" height="1" fill="#c0c0c0"/>
<polyline points="4.5,512.8 8.5,511.7 12.5,511.0 16.5,511.0 20.5,511.7 24.5,513.3 28.5,514.0 32.5,515.5 36.5,518.1 40.5,520.4 44.5,522.6 48.5,521.0 52.5,519.1 56.5,521.6 60.5,521.5 64.5,521.2 68.5,522.7 72.5,522.9 76.5,522.9 80.5,524.6 84.5,521.5 88.5,520.8 92.5,522.3 96.5,528.5 100.5,527.9 104.5,526.8 108.5,526.0 112.5,526.0 116.5,525.4 120.5,539.1 124.5,539.5 128.5,552.7 132.5,547.1 136.5,548.5 140.5,545.0 144.5,543.2 148.5,542.4 152.5,543.9 156.5,545.1 160.5,545.7 164.5,547.5 168.5,539.3 172.5,538.1 176.5,542.0 180.5,533.8 184.5,534.5 188.5,537.0 192.5,535.3 196.5,542.6 200.5,542.6 204.5,539.1 208.5,540.1 212.5,541.5 216.5,539.0 220.5,541.2 224.5,537.4 228.5,537.8 232.5,537.8 236.5,537.8 240.5,535.8 244.5,541.9 248.5,542.7 252.5,537.0 256.5,537.8 260.5,532.1 264.5,533.6 268.5,533.4 272.5,527.0 276.5,513.3 280.5,512.3 284.5,504.2 288.5,514.8 292.5,512.6 296.5,517.5 300.5,514.9 304.5,515.9 308.5,515.6 312.5,531.6 316.5,527.7 320.5,528.3 324.5,528.3 328.5,529.4 332.5,526.9 336.5,525.8 340.5,527.0 344.5,524.1 348.5,520.0 352.5,519.4 356.5,516.3 360.5,517.7 364.5,517.4 368.5,522.6 372.5,521.0 376.5,520.7 380.5,518.1 384.5,520.3 388.5,528.3 392.5,529.4 396.5,534.8 400.5,536.6 404.5,534.0 408.5,535.9 412.5,535.2 416.5,543.4 420.5,548.0 424.5,545.3 428.5,541.3 432.5,537.4 436.5,538.6 440.5,535.5 444.5,537.6 448.5,532.7 452.5,532.5 456.5,533.1 460.5,529.9 464.5,530.8 468.5,529.7 472.5,527.8 476.5,529.1 480.5,527.8 484.5,528.1 488.5,533.3 492.5,537.3 496.5,538.6 500.5,533.2 504.5,528.7 508.5,532.1 512.5,540.4 516.5,544.0 520.5,545.0 524.5,546.0 528.5,542.4 532.5,539.3 536.5,542.5 540.5,542.9 544.5,543.9 548.5,544.3 552.5,543.4 556.5,545.7 560.5,543.9 564.5,546.4 568.5,547.8 572.5,543.8 576.5,543.5 580.5,545.7 584.5,548.4 588.5,549.9 592.5,547.9 596.5,551.2 600.5,555.7 604.5,556.4 608.5,559.7 612.5,552.5 616.5,553.2 620.5,545.7 624.5,545.4 628.5,540.8 632.5,540.8 636.5,546.7 640.5,546.0 644.5,538.9 648.5,537.8 652.5,535.8 656.5,537.5 660.5,533.4 664.5,534.6 668.5,538.7 672.5,541.6 676.5,541.4 680.5,536.8 684.5,538.2 688.5,536.7 692.5,533.4 696.5,525.4 700.5,534.2 704.5,535.7 708.5,540.4 712.5,540.4 716.5,536.7 720.5,538.9 724.5,537.5 728.5,549.3 732.5,540.3 736.5,542.6 740.5,544.7 744.5,544.2 748.5,541.8 752.5,541.4 756.5,542.2 760.5,541.9 764.5,539.2 768.5,540.2 772.5,541.0 776.5,544.4 780.5,543.2 784.5,543.8 788.5,547.3 792.5,550.5 796.5,551.8 800.5,550.9 804.5,549.5 808.5,548.9 812.5,545.8 816.5,552.7 820.5,552.6 824.5,556.1 828.5,558.6 832.5,559.0 836.5,562.4 840.5,562.8 844.5,558.8 848.5,561.2 852.5,562.6 856.5,561.8 860.5,560.0 864.5,544.0 868.5,542.3 872.5,534.5 876.5,537.3" fill="none" stroke="#1e90ff" stroke-width="1.1" clip-path="url(#rsiclip)"/>
<text x="7.3999999999999915" y="506" font-family="Liberation Sans" font-size="10.5" fill="#000" font-weight="normal" textLength="68.86" lengthAdjust="spacingAndGlyphs">RSI(14)&#160;49.7445</text>
<text x="1108.7999999999993" y="504" font-family="Liberation Sans" font-size="10" fill="#000" font-weight="normal" textLength="16.29" lengthAdjust="spacingAndGlyphs">100</text>
<text x="1108.6000000000004" y="524" font-family="Liberation Sans" font-size="10" fill="#000" font-weight="normal" textLength="10.52" lengthAdjust="spacingAndGlyphs">70</text>
<text x="1108.6000000000004" y="558" font-family="Liberation Sans" font-size="10" fill="#000" font-weight="normal" textLength="10.52" lengthAdjust="spacingAndGlyphs">30</text>
<text x="1110.0" y="577" font-family="Liberation Sans" font-size="10" fill="#000" font-weight="normal" textLength="5.56" lengthAdjust="spacingAndGlyphs">0</text>
<rect x="4" y="581" width="1" height="3" fill="#000000"/>
<text x="2.599999999999998" y="593" font-family="Liberation Sans" font-size="9.5" fill="#000" font-weight="normal" textLength="55.53" lengthAdjust="spacingAndGlyphs">15&#160;May&#160;2019</text>
<rect x="68" y="581" width="1" height="3" fill="#000000"/>
<text x="67.40000000000003" y="593" font-family="Liberation Sans" font-size="9.5" fill="#000" font-weight="normal" textLength="44.40" lengthAdjust="spacingAndGlyphs">3&#160;Jun&#160;2019</text>
<rect x="132" y="581" width="1" height="3" fill="#000000"/>
<text x="131.19999999999993" y="593" font-family="Liberation Sans" font-size="9.5" fill="#000" font-weight="normal" textLength="49.46" lengthAdjust="spacingAndGlyphs">21&#160;Jun&#160;2019</text>
<rect x="196" y="581" width="1" height="3" fill="#000000"/>
<text x="194.19999999999993" y="593" font-family="Liberation Sans" font-size="9.5" fill="#000" font-weight="normal" textLength="48.92" lengthAdjust="spacingAndGlyphs">10&#160;Jul&#160;2019</text>
<rect x="260" y="581" width="1" height="3" fill="#000000"/>
<text x="258.60000000000014" y="593" font-family="Liberation Sans" font-size="9.5" fill="#000" font-weight="normal" textLength="47.12" lengthAdjust="spacingAndGlyphs">29&#160;Jul&#160;2019</text>
<rect x="324" y="581" width="1" height="3" fill="#000000"/>
<text x="323.2000000000003" y="593" font-family="Liberation Sans" font-size="9.5" fill="#000" font-weight="normal" textLength="52.42" lengthAdjust="spacingAndGlyphs">16&#160;Aug&#160;2019</text>
<rect x="388" y="581" width="1" height="3" fill="#000000"/>
<text x="387.0" y="593" font-family="Liberation Sans" font-size="9.5" fill="#000" font-weight="normal" textLength="46.57" lengthAdjust="spacingAndGlyphs">4&#160;Sep&#160;2019</text>
<rect x="452" y="581" width="1" height="3" fill="#000000"/>
<text x="451.0" y="593" font-family="Liberation Sans" font-size="9.5" fill="#000" font-weight="normal" textLength="51.72" lengthAdjust="spacingAndGlyphs">23&#160;Sep&#160;2019</text>
<rect x="516" y="581" width="1" height="3" fill="#000000"/>
<text x="514.4000000000005" y="593" font-family="Liberation Sans" font-size="9.5" fill="#000" font-weight="normal" textLength="51.25" lengthAdjust="spacingAndGlyphs">11&#160;Oct&#160;2019</text>
<rect x="580" y="581" width="1" height="3" fill="#000000"/>
<text x="578.4000000000005" y="593" font-family="Liberation Sans" font-size="9.5" fill="#000" font-weight="normal" textLength="52.28" lengthAdjust="spacingAndGlyphs">30&#160;Oct&#160;2019</text>
<rect x="644" y="581" width="1" height="3" fill="#000000"/>
<text x="642.2000000000003" y="593" font-family="Liberation Sans" font-size="9.5" fill="#000" font-weight="normal" textLength="54.42" lengthAdjust="spacingAndGlyphs">18&#160;Nov&#160;2019</text>
<rect x="708" y="581" width="1" height="3" fill="#000000"/>
<text x="707.0" y="593" font-family="Liberation Sans" font-size="9.5" fill="#000" font-weight="normal" textLength="47.16" lengthAdjust="spacingAndGlyphs">6&#160;Dec&#160;2019</text>
<rect x="772" y="581" width="1" height="3" fill="#000000"/>
<text x="771.2000000000003" y="593" font-family="Liberation Sans" font-size="9.5" fill="#000" font-weight="normal" textLength="51.62" lengthAdjust="spacingAndGlyphs">25&#160;Dec&#160;2019</text>
<rect x="836" y="581" width="1" height="3" fill="#000000"/>
<text x="834.4000000000005" y="593" font-family="Liberation Sans" font-size="9.5" fill="#000" font-weight="normal" textLength="49.86" lengthAdjust="spacingAndGlyphs">13&#160;Jan&#160;2020</text>
<rect x="0" y="601" width="1147" height="1" fill="#e3e3e3"/>
<rect x="0" y="603" width="1147" height="1" fill="#000000"/>
<rect x="0" y="605" width="1147" height="18" fill="#f0f0f0"/>
<rect x="0" y="604" width="1" height="19" fill="#606060"/>
<rect x="0" y="623" width="1147" height="2" fill="#ffffff"/>
<rect x="0" y="625" width="1147" height="1" fill="#f0f0f0"/>
<text x="16.39999999999999" y="618" font-family="Liberation Sans" font-size="12.5" fill="#6d6d6d" font-weight="normal" textLength="80.35" lengthAdjust="spacingAndGlyphs">EURUSD,Daily</text>
<text x="120.0" y="618" font-family="Liberation Sans" font-size="12.5" fill="#6d6d6d" font-weight="normal" textLength="82.05" lengthAdjust="spacingAndGlyphs">AUDUSD,Daily</text>
<text x="222.60000000000014" y="618" font-family="Liberation Sans" font-size="12.5" fill="#6d6d6d" font-weight="normal" textLength="79.05" lengthAdjust="spacingAndGlyphs">USDCHF,Daily</text>
<text x="324.2000000000003" y="618" font-family="Liberation Sans" font-size="12.5" fill="#6d6d6d" font-weight="normal" textLength="80.15" lengthAdjust="spacingAndGlyphs">USDCAD,Daily</text>
<text x="530.0" y="618" font-family="Liberation Sans" font-size="12.5" fill="#6d6d6d" font-weight="normal" textLength="68.24" lengthAdjust="spacingAndGlyphs">EURGBP,H1</text>
<text x="619.7999999999997" y="618" font-family="Liberation Sans" font-size="12.5" fill="#6d6d6d" font-weight="normal" textLength="70.55" lengthAdjust="spacingAndGlyphs">NZDUSD,H1</text>
<text x="712.0" y="618" font-family="Liberation Sans" font-size="12.5" fill="#6d6d6d" font-weight="normal" textLength="68.55" lengthAdjust="spacingAndGlyphs">GBPUSD,H1</text>
<rect x="109" y="606" width="1" height="14" fill="#6d6d6d"/>
<rect x="213" y="606" width="1" height="14" fill="#6d6d6d"/>
<rect x="314" y="606" width="1" height="14" fill="#6d6d6d"/>
<rect x="609" y="606" width="1" height="14" fill="#6d6d6d"/>
<rect x="701" y="606" width="1" height="14" fill="#6d6d6d"/>
<rect x="793" y="606" width="1" height="14" fill="#6d6d6d"/>
<rect x="417" y="603" width="105" height="18" fill="#ffffff"/>
<rect x="417" y="603" width="1" height="18" fill="#000000"/>
<rect x="521" y="603" width="1" height="18" fill="#000000"/>
<rect x="417" y="620" width="105" height="1" fill="#000000"/>
<text x="426.60000000000014" y="618" font-family="Liberation Sans" font-size="12.5" fill="#000" font-weight="normal" textLength="82.23" lengthAdjust="spacingAndGlyphs">USDCNH,Daily</text>
<path d="M1125,609 L1121.5,612 L1125,615 Z" fill="#8c8c8c"/>
<path d="M1141,609 L1144.5,612 L1141,615 Z" fill="#8c8c8c"/>
<rect x="7" y="43" width="52" height="24" fill="#0000a8"/>
<rect x="7" y="67" width="109" height="40" fill="#0000a8"/>
<rect x="8" y="44" width="50" height="23" fill="url(#gsell)"/>
<rect x="8" y="68" width="107" height="38" fill="url(#gprice)"/>
<rect x="8" y="67" width="50" height="1" fill="#3a3ae6"/>
<rect x="11" y="66" width="44" height="1" fill="#1a1ab0"/>
<rect x="11" y="67" width="44" height="1" fill="#7a7af2"/>
<rect x="174" y="43" width="52" height="24" fill="#0000a8"/>
<rect x="118" y="67" width="108" height="40" fill="#0000a8"/>
<rect x="175" y="44" width="50" height="23" fill="url(#gsell)"/>
<rect x="119" y="68" width="106" height="38" fill="url(#gprice)"/>
<rect x="175" y="67" width="50" height="1" fill="#3a3ae6"/>
<rect x="178" y="66" width="44" height="1" fill="#1a1ab0"/>
<rect x="178" y="67" width="44" height="1" fill="#7a7af2"/>
<rect x="61" y="43" width="111" height="22" fill="#b4b4b4"/>
<rect x="62" y="44" width="109" height="20" fill="#ffffff"/>
<rect x="63" y="45" width="18" height="18" fill="url(#gbtn)"/>
<rect x="82" y="44" width="1" height="20" fill="#b4b4b4"/>
<rect x="152" y="45" width="18" height="18" fill="url(#gbtn)"/>
<rect x="150" y="44" width="1" height="20" fill="#b4b4b4"/>
<path d="M68.8,52 L74.2,52 L71.5,55 Z" fill="#5a70c8" shape-rendering="geometricPrecision"/>
<path d="M157.9,55 L163.1,55 L160.5,52 Z" fill="#5a70c8" shape-rendering="geometricPrecision"/>
<text x="116.0" y="58" font-family="Liberation Sans" font-size="12.5" fill="#000" font-weight="normal" textLength="31.08" lengthAdjust="spacingAndGlyphs">16.00</text>
<text x="19.200000000000017" y="59" font-family="Liberation Sans" font-size="12.5" fill="#f0f0ff" font-weight="normal" textLength="25.89" lengthAdjust="spacingAndGlyphs">SELL</text>
<text x="186.39999999999986" y="59" font-family="Liberation Sans" font-size="12.5" fill="#f0f0ff" font-weight="normal" textLength="25.30" lengthAdjust="spacingAndGlyphs">BUY</text>
<text x="27.0" y="98" font-family="Liberation Sans" font-size="12" fill="#fff" font-weight="bold" textLength="23.96" lengthAdjust="spacingAndGlyphs">6.92</text>
<text x="54.599999999999966" y="98.5" font-family="Liberation Sans" font-size="36" fill="#fff" font-weight="normal" textLength="35.63" lengthAdjust="spacingAndGlyphs">81</text>
<text x="93.80000000000007" y="81.7" font-family="Liberation Sans" font-size="11" fill="#fff" font-weight="bold" textLength="8.02" lengthAdjust="spacingAndGlyphs">8</text>
<text x="137.0" y="98" font-family="Liberation Sans" font-size="12" fill="#fff" font-weight="bold" textLength="23.96" lengthAdjust="spacingAndGlyphs">6.93</text>
<text x="164.80000000000007" y="98.5" font-family="Liberation Sans" font-size="36" fill="#fff" font-weight="normal" textLength="36.73" lengthAdjust="spacingAndGlyphs">04</text>
<text x="205.0" y="81.7" font-family="Liberation Sans" font-size="11" fill="#fff" font-weight="bold" textLength="6.93" lengthAdjust="spacingAndGlyphs">0</text>
</svg>
</body></html>
